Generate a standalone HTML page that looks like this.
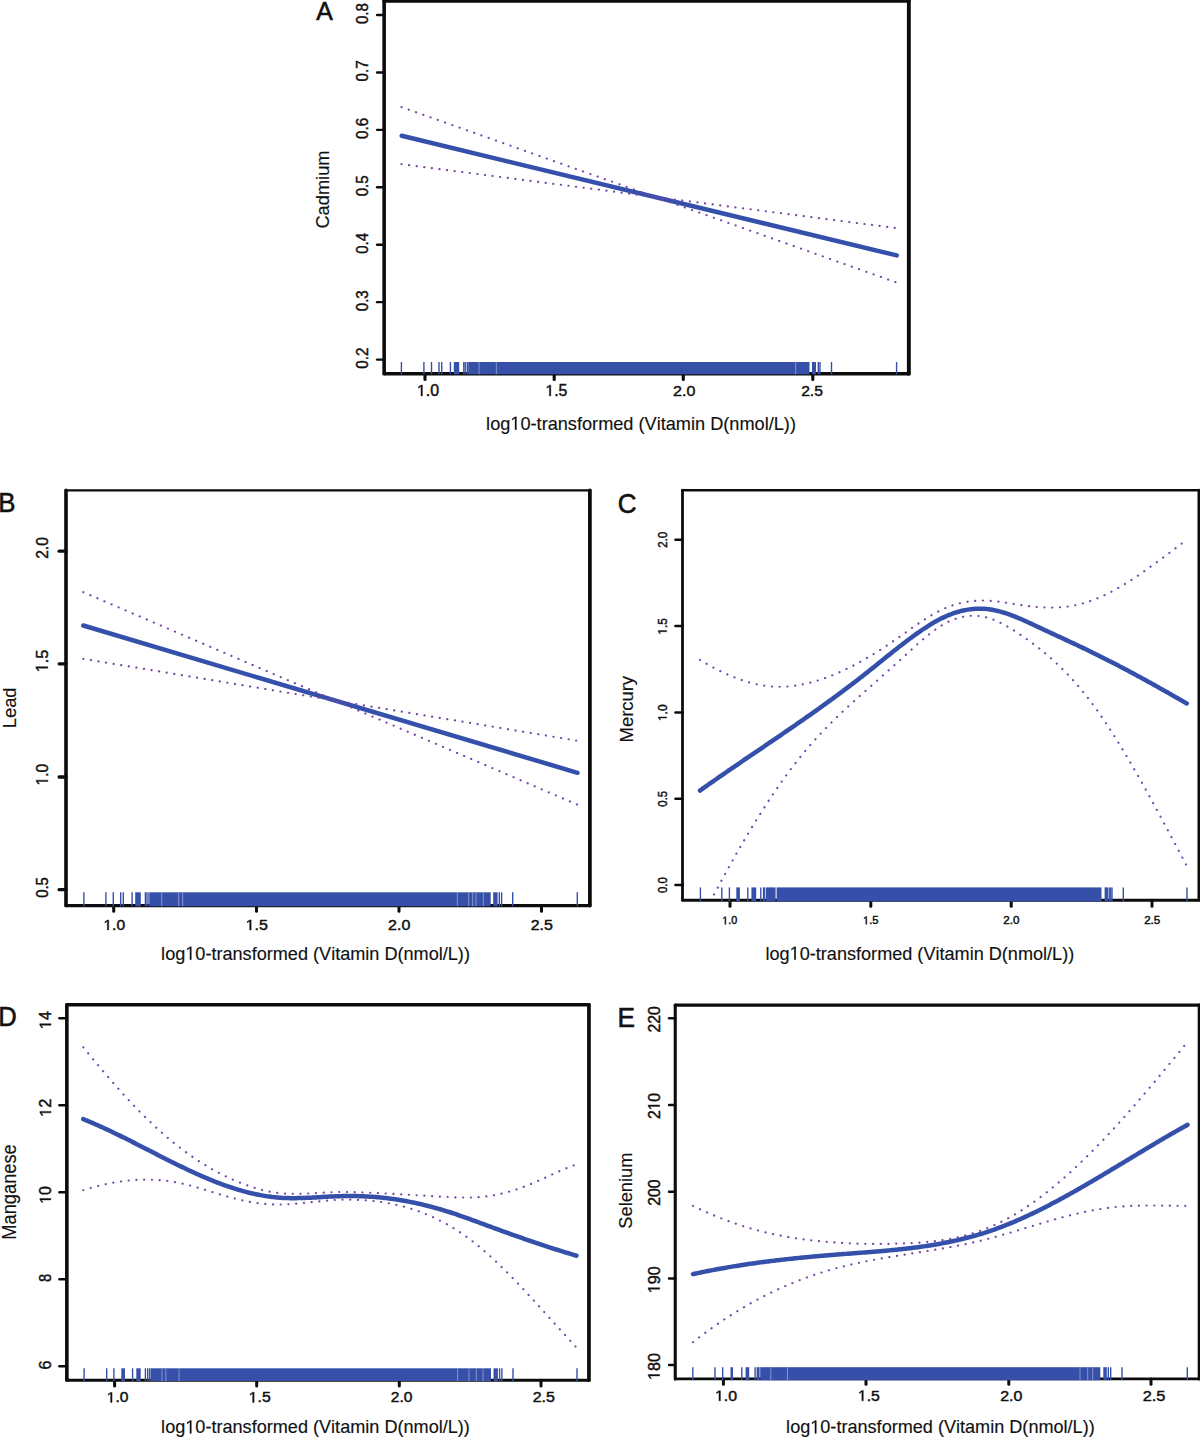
<!DOCTYPE html>
<html><head><meta charset="utf-8"><title>Vitamin D plots</title>
<style>html,body{margin:0;padding:0;background:#fff;}svg{display:block;}text{font-family:"Liberation Sans",sans-serif;}</style>
</head><body>
<svg width="1200" height="1437" viewBox="0 0 1200 1437" font-family="Liberation Sans">
<rect width="1200" height="1437" fill="#fff"/>
<clipPath id="clip0"><rect x="384.15" y="1.00" width="524.70" height="372.70"/></clipPath>
<line x1="384.15" y1="1.00" x2="384.15" y2="373.70" stroke="#0c0c0c" stroke-width="3.6" stroke-linecap="round"/>
<line x1="908.85" y1="1.00" x2="908.85" y2="373.70" stroke="#0c0c0c" stroke-width="3.9" stroke-linecap="round"/>
<line x1="384.15" y1="1.00" x2="908.85" y2="1.00" stroke="#0c0c0c" stroke-width="3.5" stroke-linecap="round"/>
<line x1="384.15" y1="373.70" x2="908.85" y2="373.70" stroke="#0c0c0c" stroke-width="3.4" stroke-linecap="round"/>
<line x1="377.10" y1="15.00" x2="384.15" y2="15.00" stroke="#0c0c0c" stroke-width="2.4" stroke-linecap="round"/>
<line x1="377.10" y1="72.43" x2="384.15" y2="72.43" stroke="#0c0c0c" stroke-width="2.4" stroke-linecap="round"/>
<line x1="377.10" y1="129.86" x2="384.15" y2="129.86" stroke="#0c0c0c" stroke-width="2.4" stroke-linecap="round"/>
<line x1="377.10" y1="187.29" x2="384.15" y2="187.29" stroke="#0c0c0c" stroke-width="2.4" stroke-linecap="round"/>
<line x1="377.10" y1="244.72" x2="384.15" y2="244.72" stroke="#0c0c0c" stroke-width="2.4" stroke-linecap="round"/>
<line x1="377.10" y1="302.15" x2="384.15" y2="302.15" stroke="#0c0c0c" stroke-width="2.4" stroke-linecap="round"/>
<line x1="377.10" y1="359.58" x2="384.15" y2="359.58" stroke="#0c0c0c" stroke-width="2.4" stroke-linecap="round"/>
<line x1="425.00" y1="373.70" x2="425.00" y2="379.45" stroke="#0c0c0c" stroke-width="3.1" stroke-linecap="round"/>
<line x1="554.20" y1="373.70" x2="554.20" y2="379.45" stroke="#0c0c0c" stroke-width="3.1" stroke-linecap="round"/>
<line x1="683.30" y1="373.70" x2="683.30" y2="379.45" stroke="#0c0c0c" stroke-width="3.1" stroke-linecap="round"/>
<line x1="812.80" y1="373.70" x2="812.80" y2="379.45" stroke="#0c0c0c" stroke-width="3.1" stroke-linecap="round"/>
<text transform="translate(367.71,24.08) rotate(-90) scale(0.9188,1)" font-size="16.41" fill="#111" stroke="#111" stroke-width="0.45">0.8</text>
<text transform="translate(367.71,81.51) rotate(-90) scale(0.9259,1)" font-size="16.41" fill="#111" stroke="#111" stroke-width="0.45">0.7</text>
<text transform="translate(367.71,138.94) rotate(-90) scale(0.9188,1)" font-size="16.41" fill="#111" stroke="#111" stroke-width="0.45">0.6</text>
<text transform="translate(367.71,196.37) rotate(-90) scale(0.9188,1)" font-size="16.41" fill="#111" stroke="#111" stroke-width="0.45">0.5</text>
<text transform="translate(367.71,253.79) rotate(-90) scale(0.9119,1)" font-size="16.41" fill="#111" stroke="#111" stroke-width="0.45">0.4</text>
<text transform="translate(367.71,311.23) rotate(-90) scale(0.9188,1)" font-size="16.41" fill="#111" stroke="#111" stroke-width="0.45">0.3</text>
<text transform="translate(367.71,368.66) rotate(-90) scale(0.9259,1)" font-size="16.41" fill="#111" stroke="#111" stroke-width="0.45">0.2</text>
<text transform="translate(416.99,395.92) scale(1.0132,1)" font-size="15.70" fill="#111" stroke="#111" stroke-width="0.45" style="font-kerning:none"> .0</text>
<path transform="translate(416.99,395.92) scale(1.0132,1) translate(0.000,0) scale(0.00767,-0.00767)" d="M515,0 L515,1237 L197,1010 L197,1180 L530,1409 L696,1409 L696,0 Z" fill="#111" stroke="#111" stroke-width="58.7"/>
<text transform="translate(545.40,395.92) scale(1.0121,1)" font-size="15.64" fill="#111" stroke="#111" stroke-width="0.45" style="font-kerning:none"> .5</text>
<path transform="translate(545.40,395.92) scale(1.0121,1) translate(0.000,0) scale(0.00764,-0.00764)" d="M515,0 L515,1237 L197,1010 L197,1180 L530,1409 L696,1409 L696,0 Z" fill="#111" stroke="#111" stroke-width="58.9"/>
<text transform="translate(673.12,395.92) scale(1.0399,1)" font-size="15.42" fill="#111" stroke="#111" stroke-width="0.45">2.0</text>
<text transform="translate(801.14,395.92) scale(1.0150,1)" font-size="15.42" fill="#111" stroke="#111" stroke-width="0.45">2.5</text>
<text transform="translate(486.10,429.70) scale(0.9595,1)" font-size="18.94" fill="#111" stroke="#111" stroke-width="0.15" style="font-kerning:none">log 0-transformed (Vitamin D(nmol/L))</text>
<path transform="translate(486.10,429.70) scale(0.9595,1) translate(25.270,0) scale(0.00925,-0.00925)" d="M515,0 L515,1237 L197,1010 L197,1180 L530,1409 L696,1409 L696,0 Z" fill="#111" stroke="#111" stroke-width="16.2"/>
<text transform="translate(328.95,228.54) rotate(-90) scale(1.0260,1)" font-size="17.77" fill="#111" stroke="#111" stroke-width="0.15">Cadmium</text>
<text transform="translate(316.30,20.40) scale(0.9369,1)" font-size="26.52" fill="#111" stroke="#111" stroke-width="0.6">A</text>
<g clip-path="url(#clip0)">
<path d="M401.70,135.80 L896.70,255.40" fill="none" stroke="#3550aa" stroke-width="4.5" stroke-linecap="round" stroke-linejoin="round"/>
<path d="M401.50,107.10 L895.40,282.10" pathLength="68" fill="none" stroke="#7548a8" stroke-width="2.15" stroke-dasharray="0.02 0.98" stroke-dashoffset="0.01" stroke-linecap="round"/>
<path d="M401.50,164.20 L894.80,227.90" pathLength="65" fill="none" stroke="#7548a8" stroke-width="2.15" stroke-dasharray="0.02 0.98" stroke-dashoffset="0.01" stroke-linecap="round"/>
</g>
<line x1="401.40" y1="362.00" x2="401.40" y2="374.30" stroke="#3650a9" stroke-width="1.4"/>
<line x1="423.90" y1="362.00" x2="423.90" y2="374.30" stroke="#3650a9" stroke-width="1.4"/>
<line x1="431.50" y1="362.00" x2="431.50" y2="374.30" stroke="#3650a9" stroke-width="1.4"/>
<line x1="439.00" y1="362.00" x2="439.00" y2="374.30" stroke="#3650a9" stroke-width="1.4"/>
<line x1="441.70" y1="362.00" x2="441.70" y2="374.30" stroke="#3650a9" stroke-width="1.4"/>
<line x1="450.40" y1="362.00" x2="450.40" y2="374.30" stroke="#3650a9" stroke-width="1.4"/>
<rect x="453.80" y="362.00" width="5.40" height="12.30" fill="#3650a9"/>
<line x1="463.80" y1="362.00" x2="463.80" y2="374.30" stroke="#3650a9" stroke-width="1.4"/>
<line x1="465.20" y1="362.00" x2="465.20" y2="374.30" stroke="#3650a9" stroke-width="1.4"/>
<line x1="467.30" y1="362.00" x2="467.30" y2="374.30" stroke="#3650a9" stroke-width="1.4"/>
<rect x="468.20" y="362.00" width="341.30" height="12.30" fill="#3650a9"/>
<rect x="812.00" y="362.00" width="4.00" height="12.30" fill="#3650a9"/>
<line x1="818.30" y1="362.00" x2="818.30" y2="374.30" stroke="#3650a9" stroke-width="1.4"/>
<line x1="820.00" y1="362.00" x2="820.00" y2="374.30" stroke="#3650a9" stroke-width="1.4"/>
<line x1="831.50" y1="362.00" x2="831.50" y2="374.30" stroke="#3650a9" stroke-width="1.4"/>
<line x1="896.60" y1="362.00" x2="896.60" y2="374.30" stroke="#3650a9" stroke-width="1.4"/>
<line x1="479.00" y1="362.00" x2="479.00" y2="374.30" stroke="#9aa6d8" stroke-width="0.8"/>
<line x1="496.30" y1="362.00" x2="496.30" y2="374.30" stroke="#9aa6d8" stroke-width="0.8"/>
<line x1="795.70" y1="362.00" x2="795.70" y2="374.30" stroke="#9aa6d8" stroke-width="0.8"/>
<clipPath id="clip1"><rect x="66.00" y="490.30" width="523.90" height="415.30"/></clipPath>
<line x1="66.00" y1="490.30" x2="66.00" y2="905.60" stroke="#0c0c0c" stroke-width="3.6" stroke-linecap="round"/>
<line x1="589.90" y1="490.30" x2="589.90" y2="905.60" stroke="#0c0c0c" stroke-width="3.75" stroke-linecap="round"/>
<line x1="66.00" y1="490.30" x2="589.90" y2="490.30" stroke="#0c0c0c" stroke-width="2.3" stroke-linecap="round"/>
<line x1="66.00" y1="905.60" x2="589.90" y2="905.60" stroke="#0c0c0c" stroke-width="3.25" stroke-linecap="round"/>
<line x1="59.15" y1="551.20" x2="66.00" y2="551.20" stroke="#0c0c0c" stroke-width="3.3" stroke-linecap="round"/>
<line x1="59.15" y1="663.80" x2="66.00" y2="663.80" stroke="#0c0c0c" stroke-width="3.3" stroke-linecap="round"/>
<line x1="59.15" y1="777.00" x2="66.00" y2="777.00" stroke="#0c0c0c" stroke-width="3.3" stroke-linecap="round"/>
<line x1="59.15" y1="889.70" x2="66.00" y2="889.70" stroke="#0c0c0c" stroke-width="3.3" stroke-linecap="round"/>
<line x1="113.70" y1="905.60" x2="113.70" y2="911.30" stroke="#0c0c0c" stroke-width="3.0" stroke-linecap="round"/>
<line x1="256.50" y1="905.60" x2="256.50" y2="911.30" stroke="#0c0c0c" stroke-width="3.0" stroke-linecap="round"/>
<line x1="399.00" y1="905.60" x2="399.00" y2="911.30" stroke="#0c0c0c" stroke-width="3.0" stroke-linecap="round"/>
<line x1="541.50" y1="905.60" x2="541.50" y2="911.30" stroke="#0c0c0c" stroke-width="3.0" stroke-linecap="round"/>
<text transform="translate(47.91,558.86) rotate(-90) scale(0.9223,1)" font-size="16.97" fill="#111" stroke="#111" stroke-width="0.45">2.0</text>
<text transform="translate(47.80,672.24) rotate(-90) scale(0.9475,1)" font-size="17.21" fill="#111" stroke="#111" stroke-width="0.45" style="font-kerning:none"> .5</text>
<path transform="translate(47.80,672.24) rotate(-90) scale(0.9475,1) translate(0.000,0) scale(0.00841,-0.00841)" d="M515,0 L515,1237 L197,1010 L197,1180 L530,1409 L696,1409 L696,0 Z" fill="#111" stroke="#111" stroke-width="53.5"/>
<text transform="translate(47.91,785.47) rotate(-90) scale(0.9187,1)" font-size="16.97" fill="#111" stroke="#111" stroke-width="0.45" style="font-kerning:none"> .0</text>
<path transform="translate(47.91,785.47) rotate(-90) scale(0.9187,1) translate(0.000,0) scale(0.00829,-0.00829)" d="M515,0 L515,1237 L197,1010 L197,1180 L530,1409 L696,1409 L696,0 Z" fill="#111" stroke="#111" stroke-width="54.3"/>
<text transform="translate(47.91,897.87) rotate(-90) scale(0.8793,1)" font-size="16.97" fill="#111" stroke="#111" stroke-width="0.45">0.5</text>
<text transform="translate(103.43,929.93) scale(1.0907,1)" font-size="14.30" fill="#111" stroke="#111" stroke-width="0.45" style="font-kerning:none"> .0</text>
<path transform="translate(103.43,929.93) scale(1.0907,1) translate(0.000,0) scale(0.00698,-0.00698)" d="M515,0 L515,1237 L197,1010 L197,1180 L530,1409 L696,1409 L696,0 Z" fill="#111" stroke="#111" stroke-width="64.5"/>
<text transform="translate(245.69,929.93) scale(1.1028,1)" font-size="14.50" fill="#111" stroke="#111" stroke-width="0.45" style="font-kerning:none"> .5</text>
<path transform="translate(245.69,929.93) scale(1.1028,1) translate(0.000,0) scale(0.00708,-0.00708)" d="M515,0 L515,1237 L197,1010 L197,1180 L530,1409 L696,1409 L696,0 Z" fill="#111" stroke="#111" stroke-width="63.6"/>
<text transform="translate(388.12,929.93) scale(1.1219,1)" font-size="14.30" fill="#111" stroke="#111" stroke-width="0.45">2.0</text>
<text transform="translate(530.73,929.93) scale(1.1165,1)" font-size="14.30" fill="#111" stroke="#111" stroke-width="0.45">2.5</text>
<text transform="translate(161.11,959.70) scale(0.9566,1)" font-size="18.94" fill="#111" stroke="#111" stroke-width="0.15" style="font-kerning:none">log 0-transformed (Vitamin D(nmol/L))</text>
<path transform="translate(161.11,959.70) scale(0.9566,1) translate(25.270,0) scale(0.00925,-0.00925)" d="M515,0 L515,1237 L197,1010 L197,1180 L530,1409 L696,1409 L696,0 Z" fill="#111" stroke="#111" stroke-width="16.2"/>
<text transform="translate(15.64,728.30) rotate(-90) scale(0.9969,1)" font-size="18.45" fill="#111" stroke="#111" stroke-width="0.15">Lead</text>
<text transform="translate(-1.77,512.40) scale(0.9437,1)" font-size="27.39" fill="#111" stroke="#111" stroke-width="0.6">B</text>
<g clip-path="url(#clip1)">
<path d="M83.30,625.50 L577.50,772.80" fill="none" stroke="#3550aa" stroke-width="4.5" stroke-linecap="round" stroke-linejoin="round"/>
<path d="M83.30,592.20 L577.00,804.50" pathLength="70" fill="none" stroke="#7548a8" stroke-width="2.15" stroke-dasharray="0.02 0.98" stroke-dashoffset="0.01" stroke-linecap="round"/>
<path d="M83.30,658.80 L576.20,740.50" pathLength="65" fill="none" stroke="#7548a8" stroke-width="2.15" stroke-dasharray="0.02 0.98" stroke-dashoffset="0.01" stroke-linecap="round"/>
</g>
<line x1="83.90" y1="892.30" x2="83.90" y2="906.30" stroke="#3650a9" stroke-width="1.4"/>
<line x1="105.90" y1="892.30" x2="105.90" y2="906.30" stroke="#3650a9" stroke-width="1.4"/>
<line x1="113.30" y1="892.30" x2="113.30" y2="906.30" stroke="#3650a9" stroke-width="1.4"/>
<line x1="120.70" y1="892.30" x2="120.70" y2="906.30" stroke="#3650a9" stroke-width="1.4"/>
<line x1="123.30" y1="892.30" x2="123.30" y2="906.30" stroke="#3650a9" stroke-width="1.4"/>
<line x1="132.10" y1="892.30" x2="132.10" y2="906.30" stroke="#3650a9" stroke-width="1.4"/>
<rect x="135.20" y="892.30" width="5.60" height="14.00" fill="#3650a9"/>
<line x1="145.40" y1="892.30" x2="145.40" y2="906.30" stroke="#3650a9" stroke-width="1.4"/>
<line x1="147.00" y1="892.30" x2="147.00" y2="906.30" stroke="#3650a9" stroke-width="1.4"/>
<line x1="149.00" y1="892.30" x2="149.00" y2="906.30" stroke="#3650a9" stroke-width="1.4"/>
<rect x="149.80" y="892.30" width="340.90" height="14.00" fill="#3650a9"/>
<rect x="493.20" y="892.30" width="4.40" height="14.00" fill="#3650a9"/>
<line x1="499.30" y1="892.30" x2="499.30" y2="906.30" stroke="#3650a9" stroke-width="1.4"/>
<line x1="501.60" y1="892.30" x2="501.60" y2="906.30" stroke="#3650a9" stroke-width="1.4"/>
<line x1="512.70" y1="892.30" x2="512.70" y2="906.30" stroke="#3650a9" stroke-width="1.4"/>
<line x1="577.30" y1="892.30" x2="577.30" y2="906.30" stroke="#3650a9" stroke-width="1.4"/>
<line x1="161.70" y1="892.30" x2="161.70" y2="906.30" stroke="#9aa6d8" stroke-width="0.8"/>
<line x1="178.70" y1="892.30" x2="178.70" y2="906.30" stroke="#9aa6d8" stroke-width="0.8"/>
<line x1="182.70" y1="892.30" x2="182.70" y2="906.30" stroke="#9aa6d8" stroke-width="0.8"/>
<line x1="457.30" y1="892.30" x2="457.30" y2="906.30" stroke="#9aa6d8" stroke-width="0.8"/>
<line x1="468.70" y1="892.30" x2="468.70" y2="906.30" stroke="#9aa6d8" stroke-width="0.8"/>
<line x1="472.70" y1="892.30" x2="472.70" y2="906.30" stroke="#9aa6d8" stroke-width="0.8"/>
<line x1="476.00" y1="892.30" x2="476.00" y2="906.30" stroke="#9aa6d8" stroke-width="0.8"/>
<line x1="483.30" y1="892.30" x2="483.30" y2="906.30" stroke="#9aa6d8" stroke-width="0.8"/>
<clipPath id="clip2"><rect x="682.50" y="490.20" width="516.40" height="410.05"/></clipPath>
<line x1="682.50" y1="490.20" x2="682.50" y2="900.25" stroke="#0c0c0c" stroke-width="2.8" stroke-linecap="round"/>
<line x1="1198.90" y1="490.20" x2="1198.90" y2="900.25" stroke="#0c0c0c" stroke-width="2.8" stroke-linecap="round"/>
<line x1="682.50" y1="490.20" x2="1198.90" y2="490.20" stroke="#0c0c0c" stroke-width="2.5" stroke-linecap="round"/>
<line x1="682.50" y1="900.25" x2="1198.90" y2="900.25" stroke="#0c0c0c" stroke-width="2.8" stroke-linecap="round"/>
<line x1="675.45" y1="539.70" x2="682.50" y2="539.70" stroke="#0c0c0c" stroke-width="2.5" stroke-linecap="round"/>
<line x1="675.45" y1="626.05" x2="682.50" y2="626.05" stroke="#0c0c0c" stroke-width="2.5" stroke-linecap="round"/>
<line x1="675.45" y1="712.40" x2="682.50" y2="712.40" stroke="#0c0c0c" stroke-width="2.5" stroke-linecap="round"/>
<line x1="675.45" y1="798.75" x2="682.50" y2="798.75" stroke="#0c0c0c" stroke-width="2.5" stroke-linecap="round"/>
<line x1="675.45" y1="885.10" x2="682.50" y2="885.10" stroke="#0c0c0c" stroke-width="2.5" stroke-linecap="round"/>
<line x1="730.00" y1="900.25" x2="730.00" y2="906.20" stroke="#0c0c0c" stroke-width="3.0" stroke-linecap="round"/>
<line x1="870.80" y1="900.25" x2="870.80" y2="906.20" stroke="#0c0c0c" stroke-width="3.0" stroke-linecap="round"/>
<line x1="1011.20" y1="900.25" x2="1011.20" y2="906.20" stroke="#0c0c0c" stroke-width="3.0" stroke-linecap="round"/>
<line x1="1152.00" y1="900.25" x2="1152.00" y2="906.20" stroke="#0c0c0c" stroke-width="3.0" stroke-linecap="round"/>
<text transform="translate(666.65,547.75) rotate(-90) scale(0.9550,1)" font-size="12.04" fill="#111" stroke="#111" stroke-width="0.45">2.0</text>
<text transform="translate(666.65,634.67) rotate(-90) scale(0.9762,1)" font-size="12.21" fill="#111" stroke="#111" stroke-width="0.45" style="font-kerning:none"> .5</text>
<path transform="translate(666.65,634.67) rotate(-90) scale(0.9762,1) translate(0.000,0) scale(0.00596,-0.00596)" d="M515,0 L515,1237 L197,1010 L197,1180 L530,1409 L696,1409 L696,0 Z" fill="#111" stroke="#111" stroke-width="75.5"/>
<text transform="translate(666.65,721.02) rotate(-90) scale(0.9902,1)" font-size="12.04" fill="#111" stroke="#111" stroke-width="0.45" style="font-kerning:none"> .0</text>
<path transform="translate(666.65,721.02) rotate(-90) scale(0.9902,1) translate(0.000,0) scale(0.00588,-0.00588)" d="M515,0 L515,1237 L197,1010 L197,1180 L530,1409 L696,1409 L696,0 Z" fill="#111" stroke="#111" stroke-width="76.5"/>
<text transform="translate(666.65,806.68) rotate(-90) scale(0.9477,1)" font-size="12.04" fill="#111" stroke="#111" stroke-width="0.45">0.5</text>
<text transform="translate(666.65,893.03) rotate(-90) scale(0.9477,1)" font-size="12.04" fill="#111" stroke="#111" stroke-width="0.45">0.0</text>
<text transform="translate(722.19,924.36) scale(0.9652,1)" font-size="11.20" fill="#111" stroke="#111" stroke-width="0.45" style="font-kerning:none"> .0</text>
<path transform="translate(722.19,924.36) scale(0.9652,1) translate(0.000,0) scale(0.00547,-0.00547)" d="M515,0 L515,1237 L197,1010 L197,1180 L530,1409 L696,1409 L696,0 Z" fill="#111" stroke="#111" stroke-width="82.3"/>
<text transform="translate(862.95,924.36) scale(0.9867,1)" font-size="11.36" fill="#111" stroke="#111" stroke-width="0.45" style="font-kerning:none"> .5</text>
<path transform="translate(862.95,924.36) scale(0.9867,1) translate(0.000,0) scale(0.00555,-0.00555)" d="M515,0 L515,1237 L197,1010 L197,1180 L530,1409 L696,1409 L696,0 Z" fill="#111" stroke="#111" stroke-width="81.1"/>
<text transform="translate(1003.35,924.36) scale(1.0339,1)" font-size="11.20" fill="#111" stroke="#111" stroke-width="0.45">2.0</text>
<text transform="translate(1144.15,924.36) scale(1.0339,1)" font-size="11.20" fill="#111" stroke="#111" stroke-width="0.45">2.5</text>
<text transform="translate(765.51,959.70) scale(0.9558,1)" font-size="18.94" fill="#111" stroke="#111" stroke-width="0.15" style="font-kerning:none">log 0-transformed (Vitamin D(nmol/L))</text>
<path transform="translate(765.51,959.70) scale(0.9558,1) translate(25.270,0) scale(0.00925,-0.00925)" d="M515,0 L515,1237 L197,1010 L197,1180 L530,1409 L696,1409 L696,0 Z" fill="#111" stroke="#111" stroke-width="16.2"/>
<text transform="translate(632.61,742.39) rotate(-90) scale(1.0113,1)" font-size="18.17" fill="#111" stroke="#111" stroke-width="0.15">Mercury</text>
<text transform="translate(617.75,512.53) scale(0.9478,1)" font-size="27.46" fill="#111" stroke="#111" stroke-width="0.6">C</text>
<g clip-path="url(#clip2)">
<path d="M700.00,790.54 L701.50,789.48 L703.00,788.42 L704.49,787.36 L705.99,786.30 L707.49,785.25 L708.99,784.20 L710.48,783.15 L711.98,782.10 L713.48,781.06 L714.98,780.01 L716.47,778.97 L717.97,777.93 L719.47,776.89 L720.97,775.86 L722.46,774.82 L723.96,773.79 L725.46,772.76 L726.96,771.73 L728.45,770.70 L729.95,769.67 L731.45,768.64 L732.95,767.62 L734.44,766.59 L735.94,765.57 L737.44,764.55 L738.94,763.53 L740.43,762.51 L741.93,761.49 L743.43,760.47 L744.93,759.45 L746.42,758.43 L747.92,757.41 L749.42,756.40 L750.92,755.38 L752.41,754.37 L753.91,753.35 L755.41,752.33 L756.91,751.32 L758.40,750.30 L759.90,749.29 L761.40,748.27 L762.90,747.26 L764.39,746.24 L765.89,745.22 L767.39,744.21 L768.89,743.19 L770.38,742.17 L771.88,741.15 L773.38,740.14 L774.88,739.12 L776.37,738.10 L777.87,737.08 L779.37,736.05 L780.87,735.03 L782.36,734.01 L783.86,732.98 L785.36,731.96 L786.86,730.93 L788.35,729.90 L789.85,728.87 L791.35,727.84 L792.85,726.81 L794.34,725.78 L795.84,724.74 L797.34,723.71 L798.84,722.67 L800.34,721.63 L801.83,720.59 L803.33,719.54 L804.83,718.50 L806.33,717.45 L807.82,716.40 L809.32,715.35 L810.82,714.29 L812.32,713.24 L813.81,712.18 L815.31,711.12 L816.81,710.05 L818.31,708.99 L819.80,707.92 L821.30,706.85 L822.80,705.77 L824.30,704.69 L825.79,703.61 L827.29,702.53 L828.79,701.45 L830.29,700.36 L831.78,699.26 L833.28,698.17 L834.78,697.07 L836.28,695.97 L837.77,694.86 L839.27,693.76 L840.77,692.64 L842.27,691.53 L843.76,690.41 L845.26,689.29 L846.76,688.16 L848.26,687.03 L849.75,685.90 L851.25,684.76 L852.75,683.62 L854.25,682.47 L855.74,681.32 L857.24,680.16 L858.74,679.00 L860.24,677.84 L861.73,676.67 L863.23,675.50 L864.73,674.32 L866.23,673.14 L867.72,671.96 L869.22,670.77 L870.72,669.57 L872.22,668.38 L873.71,667.18 L875.21,665.97 L876.71,664.77 L878.21,663.56 L879.70,662.36 L881.20,661.15 L882.70,659.94 L884.20,658.74 L885.69,657.53 L887.19,656.33 L888.69,655.13 L890.19,653.93 L891.68,652.73 L893.18,651.54 L894.68,650.35 L896.18,649.17 L897.68,647.99 L899.17,646.82 L900.67,645.66 L902.17,644.50 L903.67,643.35 L905.16,642.20 L906.66,641.07 L908.16,639.94 L909.66,638.82 L911.15,637.71 L912.65,636.61 L914.15,635.53 L915.65,634.45 L917.14,633.39 L918.64,632.34 L920.14,631.30 L921.64,630.27 L923.13,629.26 L924.63,628.26 L926.13,627.28 L927.63,626.32 L929.12,625.37 L930.62,624.45 L932.12,623.54 L933.62,622.66 L935.11,621.80 L936.61,620.96 L938.11,620.14 L939.61,619.35 L941.10,618.59 L942.60,617.86 L944.10,617.15 L945.60,616.46 L947.09,615.81 L948.59,615.18 L950.09,614.58 L951.59,614.01 L953.08,613.47 L954.58,612.95 L956.08,612.46 L957.58,612.00 L959.07,611.57 L960.57,611.17 L962.07,610.80 L963.57,610.46 L965.06,610.15 L966.56,609.86 L968.06,609.61 L969.56,609.39 L971.05,609.19 L972.55,609.03 L974.05,608.90 L975.55,608.80 L977.04,608.73 L978.54,608.69 L980.04,608.68 L981.54,608.71 L983.03,608.77 L984.53,608.86 L986.03,608.98 L987.53,609.13 L989.02,609.32 L990.52,609.53 L992.02,609.78 L993.52,610.05 L995.02,610.36 L996.51,610.69 L998.01,611.05 L999.51,611.43 L1001.01,611.84 L1002.50,612.27 L1004.00,612.72 L1005.50,613.20 L1007.00,613.69 L1008.49,614.20 L1009.99,614.74 L1011.49,615.29 L1012.99,615.86 L1014.48,616.44 L1015.98,617.04 L1017.48,617.65 L1018.98,618.27 L1020.47,618.91 L1021.97,619.56 L1023.47,620.21 L1024.97,620.88 L1026.46,621.55 L1027.96,622.23 L1029.46,622.92 L1030.96,623.61 L1032.45,624.31 L1033.95,625.01 L1035.45,625.71 L1036.95,626.42 L1038.44,627.12 L1039.94,627.83 L1041.44,628.53 L1042.94,629.23 L1044.43,629.93 L1045.93,630.63 L1047.43,631.32 L1048.93,632.02 L1050.42,632.71 L1051.92,633.41 L1053.42,634.10 L1054.92,634.80 L1056.41,635.49 L1057.91,636.19 L1059.41,636.88 L1060.91,637.57 L1062.40,638.27 L1063.90,638.96 L1065.40,639.66 L1066.90,640.36 L1068.39,641.05 L1069.89,641.75 L1071.39,642.45 L1072.89,643.15 L1074.38,643.86 L1075.88,644.56 L1077.38,645.27 L1078.88,645.98 L1080.37,646.69 L1081.87,647.40 L1083.37,648.11 L1084.87,648.83 L1086.36,649.55 L1087.86,650.27 L1089.36,651.00 L1090.86,651.73 L1092.36,652.46 L1093.85,653.19 L1095.35,653.93 L1096.85,654.67 L1098.35,655.41 L1099.84,656.16 L1101.34,656.91 L1102.84,657.66 L1104.34,658.42 L1105.83,659.17 L1107.33,659.93 L1108.83,660.70 L1110.33,661.46 L1111.82,662.23 L1113.32,663.00 L1114.82,663.78 L1116.32,664.56 L1117.81,665.33 L1119.31,666.12 L1120.81,666.90 L1122.31,667.69 L1123.80,668.48 L1125.30,669.27 L1126.80,670.06 L1128.30,670.86 L1129.79,671.66 L1131.29,672.46 L1132.79,673.26 L1134.29,674.07 L1135.78,674.88 L1137.28,675.69 L1138.78,676.50 L1140.28,677.31 L1141.77,678.13 L1143.27,678.95 L1144.77,679.77 L1146.27,680.59 L1147.76,681.42 L1149.26,682.25 L1150.76,683.07 L1152.26,683.91 L1153.75,684.74 L1155.25,685.57 L1156.75,686.41 L1158.25,687.25 L1159.74,688.09 L1161.24,688.93 L1162.74,689.77 L1164.24,690.62 L1165.73,691.46 L1167.23,692.31 L1168.73,693.16 L1170.23,694.01 L1171.72,694.87 L1173.22,695.72 L1174.72,696.58 L1176.22,697.43 L1177.71,698.29 L1179.21,699.15 L1180.71,700.01 L1182.21,700.88 L1183.70,701.74 L1185.20,702.61 L1186.70,703.47" fill="none" stroke="#3550aa" stroke-width="4.5" stroke-linecap="round" stroke-linejoin="round"/>
<path d="M700.00,659.84 L701.50,660.75 L702.99,661.64 L704.49,662.52 L705.98,663.39 L707.48,664.25 L708.98,665.09 L710.47,665.93 L711.97,666.75 L713.46,667.55 L714.96,668.35 L716.46,669.13 L717.95,669.90 L719.45,670.65 L720.94,671.39 L722.44,672.12 L723.94,672.83 L725.43,673.52 L726.93,674.21 L728.42,674.87 L729.92,675.52 L731.42,676.16 L732.91,676.78 L734.41,677.38 L735.90,677.97 L737.40,678.54 L738.90,679.09 L740.39,679.63 L741.89,680.14 L743.38,680.65 L744.88,681.13 L746.37,681.59 L747.87,682.04 L749.37,682.47 L750.86,682.88 L752.36,683.27 L753.85,683.64 L755.35,683.99 L756.85,684.33 L758.34,684.64 L759.84,684.93 L761.33,685.20 L762.83,685.46 L764.33,685.69 L765.82,685.90 L767.32,686.08 L768.81,686.25 L770.31,686.40 L771.81,686.52 L773.30,686.62 L774.80,686.70 L776.29,686.75 L777.79,686.79 L779.29,686.80 L780.78,686.79 L782.28,686.77 L783.77,686.72 L785.27,686.65 L786.77,686.56 L788.26,686.45 L789.76,686.32 L791.25,686.17 L792.75,686.00 L794.25,685.81 L795.74,685.60 L797.24,685.38 L798.73,685.13 L800.23,684.87 L801.73,684.59 L803.22,684.29 L804.72,683.98 L806.21,683.65 L807.71,683.30 L809.21,682.93 L810.70,682.54 L812.20,682.14 L813.69,681.73 L815.19,681.30 L816.69,680.85 L818.18,680.38 L819.68,679.91 L821.17,679.41 L822.67,678.90 L824.16,678.38 L825.66,677.84 L827.16,677.29 L828.65,676.72 L830.15,676.14 L831.64,675.55 L833.14,674.95 L834.64,674.33 L836.13,673.69 L837.63,673.05 L839.12,672.39 L840.62,671.72 L842.12,671.04 L843.61,670.34 L845.11,669.63 L846.60,668.91 L848.10,668.18 L849.60,667.44 L851.09,666.68 L852.59,665.92 L854.08,665.14 L855.58,664.35 L857.08,663.55 L858.57,662.74 L860.07,661.92 L861.56,661.08 L863.06,660.24 L864.56,659.39 L866.05,658.52 L867.55,657.65 L869.04,656.76 L870.54,655.87 L872.04,654.96 L873.53,654.05 L875.03,653.13 L876.52,652.19 L878.02,651.25 L879.52,650.30 L881.01,649.34 L882.51,648.37 L884.00,647.39 L885.50,646.40 L887.00,645.41 L888.49,644.40 L889.99,643.39 L891.48,642.37 L892.98,641.34 L894.48,640.31 L895.97,639.26 L897.47,638.21 L898.96,637.16 L900.46,636.10 L901.95,635.04 L903.45,633.98 L904.95,632.92 L906.44,631.86 L907.94,630.80 L909.43,629.74 L910.93,628.69 L912.43,627.64 L913.92,626.60 L915.42,625.57 L916.91,624.54 L918.41,623.53 L919.91,622.52 L921.40,621.53 L922.90,620.55 L924.39,619.58 L925.89,618.63 L927.39,617.69 L928.88,616.78 L930.38,615.88 L931.87,615.00 L933.37,614.14 L934.87,613.30 L936.36,612.48 L937.86,611.69 L939.35,610.93 L940.85,610.18 L942.35,609.47 L943.84,608.79 L945.34,608.13 L946.83,607.50 L948.33,606.91 L949.83,606.34 L951.32,605.80 L952.82,605.29 L954.31,604.81 L955.81,604.36 L957.31,603.93 L958.80,603.53 L960.30,603.16 L961.79,602.81 L963.29,602.49 L964.79,602.20 L966.28,601.93 L967.78,601.68 L969.27,601.46 L970.77,601.27 L972.27,601.10 L973.76,600.95 L975.26,600.83 L976.75,600.73 L978.25,600.65 L979.75,600.59 L981.24,600.56 L982.74,600.54 L984.23,600.55 L985.73,600.58 L987.22,600.63 L988.72,600.70 L990.22,600.79 L991.71,600.90 L993.21,601.03 L994.70,601.18 L996.20,601.34 L997.70,601.51 L999.19,601.70 L1000.69,601.90 L1002.18,602.11 L1003.68,602.33 L1005.18,602.55 L1006.67,602.78 L1008.17,603.02 L1009.66,603.26 L1011.16,603.51 L1012.66,603.75 L1014.15,604.00 L1015.65,604.24 L1017.14,604.48 L1018.64,604.72 L1020.14,604.95 L1021.63,605.17 L1023.13,605.39 L1024.62,605.60 L1026.12,605.80 L1027.62,605.99 L1029.11,606.18 L1030.61,606.35 L1032.10,606.51 L1033.60,606.67 L1035.10,606.81 L1036.59,606.94 L1038.09,607.07 L1039.58,607.18 L1041.08,607.27 L1042.58,607.36 L1044.07,607.43 L1045.57,607.49 L1047.06,607.53 L1048.56,607.56 L1050.06,607.58 L1051.55,607.58 L1053.05,607.56 L1054.54,607.53 L1056.04,607.48 L1057.54,607.42 L1059.03,607.34 L1060.53,607.24 L1062.02,607.12 L1063.52,606.99 L1065.01,606.84 L1066.51,606.66 L1068.01,606.47 L1069.50,606.26 L1071.00,606.03 L1072.49,605.78 L1073.99,605.51 L1075.49,605.21 L1076.98,604.90 L1078.48,604.56 L1079.97,604.20 L1081.47,603.81 L1082.97,603.41 L1084.46,602.98 L1085.96,602.52 L1087.45,602.05 L1088.95,601.55 L1090.45,601.03 L1091.94,600.49 L1093.44,599.93 L1094.93,599.35 L1096.43,598.75 L1097.93,598.13 L1099.42,597.49 L1100.92,596.83 L1102.41,596.15 L1103.91,595.45 L1105.41,594.74 L1106.90,594.01 L1108.40,593.26 L1109.89,592.49 L1111.39,591.71 L1112.89,590.91 L1114.38,590.10 L1115.88,589.27 L1117.37,588.43 L1118.87,587.57 L1120.37,586.70 L1121.86,585.82 L1123.36,584.92 L1124.85,584.01 L1126.35,583.08 L1127.85,582.15 L1129.34,581.20 L1130.84,580.24 L1132.33,579.27 L1133.83,578.29 L1135.33,577.30 L1136.82,576.30 L1138.32,575.29 L1139.81,574.27 L1141.31,573.25 L1142.80,572.21 L1144.30,571.17 L1145.80,570.12 L1147.29,569.06 L1148.79,568.00 L1150.28,566.92 L1151.78,565.85 L1153.28,564.76 L1154.77,563.68 L1156.27,562.58 L1157.76,561.49 L1159.26,560.38 L1160.76,559.28 L1162.25,558.17 L1163.75,557.06 L1165.24,555.95 L1166.74,554.83 L1168.24,553.71 L1169.73,552.59 L1171.23,551.47 L1172.72,550.35 L1174.22,549.23 L1175.72,548.11 L1177.21,546.99 L1178.71,545.87 L1180.20,544.75 L1181.70,543.63" pathLength="68" fill="none" stroke="#7548a8" stroke-width="2.15" stroke-dasharray="0.02 0.98" stroke-dashoffset="0.01" stroke-linecap="round"/>
<path d="M707.00,908.13 L708.50,905.24 L709.99,902.35 L711.49,899.48 L712.99,896.63 L714.48,893.78 L715.98,890.95 L717.48,888.14 L718.98,885.33 L720.47,882.54 L721.97,879.77 L723.47,877.01 L724.96,874.26 L726.46,871.52 L727.96,868.80 L729.45,866.10 L730.95,863.40 L732.45,860.73 L733.94,858.07 L735.44,855.42 L736.94,852.79 L738.43,850.17 L739.93,847.57 L741.43,844.98 L742.92,842.41 L744.42,839.86 L745.92,837.32 L747.42,834.80 L748.91,832.29 L750.41,829.80 L751.91,827.33 L753.40,824.87 L754.90,822.43 L756.40,820.00 L757.89,817.60 L759.39,815.21 L760.89,812.83 L762.38,810.48 L763.88,808.14 L765.38,805.82 L766.88,803.52 L768.37,801.23 L769.87,798.97 L771.37,796.72 L772.86,794.49 L774.36,792.28 L775.86,790.08 L777.35,787.91 L778.85,785.75 L780.35,783.62 L781.84,781.50 L783.34,779.40 L784.84,777.32 L786.33,775.26 L787.83,773.22 L789.33,771.20 L790.83,769.20 L792.32,767.22 L793.82,765.26 L795.32,763.32 L796.81,761.41 L798.31,759.51 L799.81,757.63 L801.30,755.77 L802.80,753.94 L804.30,752.12 L805.79,750.33 L807.29,748.56 L808.79,746.81 L810.28,745.07 L811.78,743.36 L813.28,741.67 L814.77,740.00 L816.27,738.34 L817.77,736.70 L819.27,735.08 L820.76,733.48 L822.26,731.89 L823.76,730.32 L825.25,728.77 L826.75,727.23 L828.25,725.70 L829.74,724.19 L831.24,722.69 L832.74,721.20 L834.23,719.72 L835.73,718.26 L837.23,716.81 L838.73,715.37 L840.22,713.94 L841.72,712.52 L843.22,711.11 L844.71,709.71 L846.21,708.31 L847.71,706.93 L849.20,705.55 L850.70,704.18 L852.20,702.81 L853.69,701.45 L855.19,700.10 L856.69,698.75 L858.18,697.41 L859.68,696.07 L861.18,694.73 L862.67,693.40 L864.17,692.07 L865.67,690.74 L867.17,689.41 L868.66,688.09 L870.16,686.76 L871.66,685.44 L873.15,684.11 L874.65,682.78 L876.15,681.46 L877.64,680.13 L879.14,678.80 L880.64,677.47 L882.13,676.14 L883.63,674.81 L885.13,673.47 L886.62,672.14 L888.12,670.80 L889.62,669.46 L891.12,668.12 L892.61,666.77 L894.11,665.43 L895.61,664.08 L897.10,662.73 L898.60,661.37 L900.10,660.02 L901.59,658.66 L903.09,657.29 L904.59,655.93 L906.08,654.56 L907.58,653.18 L909.08,651.81 L910.58,650.44 L912.07,649.07 L913.57,647.70 L915.07,646.34 L916.56,644.99 L918.06,643.65 L919.56,642.33 L921.05,641.02 L922.55,639.72 L924.05,638.44 L925.54,637.18 L927.04,635.95 L928.54,634.73 L930.03,633.55 L931.53,632.39 L933.03,631.25 L934.52,630.15 L936.02,629.09 L937.52,628.06 L939.02,627.06 L940.51,626.10 L942.01,625.19 L943.51,624.31 L945.00,623.48 L946.50,622.69 L948.00,621.94 L949.49,621.23 L950.99,620.57 L952.49,619.95 L953.98,619.37 L955.48,618.83 L956.98,618.33 L958.48,617.88 L959.97,617.47 L961.47,617.11 L962.97,616.78 L964.46,616.50 L965.96,616.26 L967.46,616.07 L968.95,615.92 L970.45,615.81 L971.95,615.75 L973.44,615.73 L974.94,615.76 L976.44,615.83 L977.93,615.94 L979.43,616.10 L980.93,616.30 L982.42,616.54 L983.92,616.84 L985.42,617.17 L986.92,617.55 L988.41,617.98 L989.91,618.44 L991.41,618.95 L992.90,619.49 L994.40,620.08 L995.90,620.69 L997.39,621.35 L998.89,622.03 L1000.39,622.75 L1001.88,623.50 L1003.38,624.28 L1004.88,625.08 L1006.38,625.91 L1007.87,626.77 L1009.37,627.65 L1010.87,628.55 L1012.36,629.47 L1013.86,630.40 L1015.36,631.36 L1016.85,632.33 L1018.35,633.32 L1019.85,634.32 L1021.34,635.33 L1022.84,636.35 L1024.34,637.39 L1025.83,638.43 L1027.33,639.49 L1028.83,640.57 L1030.33,641.65 L1031.82,642.76 L1033.32,643.87 L1034.82,645.00 L1036.31,646.15 L1037.81,647.31 L1039.31,648.49 L1040.80,649.68 L1042.30,650.89 L1043.80,652.12 L1045.29,653.37 L1046.79,654.63 L1048.29,655.91 L1049.78,657.21 L1051.28,658.53 L1052.78,659.87 L1054.28,661.23 L1055.77,662.61 L1057.27,664.02 L1058.77,665.44 L1060.26,666.88 L1061.76,668.35 L1063.26,669.84 L1064.75,671.35 L1066.25,672.88 L1067.75,674.44 L1069.24,676.02 L1070.74,677.63 L1072.24,679.26 L1073.73,680.92 L1075.23,682.60 L1076.73,684.31 L1078.22,686.05 L1079.72,687.81 L1081.22,689.60 L1082.72,691.41 L1084.21,693.26 L1085.71,695.13 L1087.21,697.03 L1088.70,698.96 L1090.20,700.92 L1091.70,702.91 L1093.19,704.92 L1094.69,706.97 L1096.19,709.04 L1097.68,711.13 L1099.18,713.26 L1100.68,715.40 L1102.17,717.58 L1103.67,719.78 L1105.17,722.00 L1106.67,724.24 L1108.16,726.51 L1109.66,728.80 L1111.16,731.11 L1112.65,733.45 L1114.15,735.81 L1115.65,738.18 L1117.14,740.58 L1118.64,743.00 L1120.14,745.43 L1121.63,747.89 L1123.13,750.36 L1124.63,752.85 L1126.12,755.36 L1127.62,757.89 L1129.12,760.43 L1130.62,762.99 L1132.11,765.56 L1133.61,768.15 L1135.11,770.75 L1136.60,773.37 L1138.10,776.00 L1139.60,778.64 L1141.09,781.30 L1142.59,783.96 L1144.09,786.64 L1145.58,789.33 L1147.08,792.04 L1148.58,794.75 L1150.08,797.47 L1151.57,800.20 L1153.07,802.94 L1154.57,805.69 L1156.06,808.44 L1157.56,811.20 L1159.06,813.97 L1160.55,816.75 L1162.05,819.53 L1163.55,822.32 L1165.04,825.11 L1166.54,827.91 L1168.04,830.71 L1169.53,833.51 L1171.03,836.32 L1172.53,839.13 L1174.03,841.94 L1175.52,844.76 L1177.02,847.57 L1178.52,850.39 L1180.01,853.20 L1181.51,856.02 L1183.01,858.83 L1184.50,861.64 L1186.00,864.45" pathLength="96" fill="none" stroke="#7548a8" stroke-width="2.15" stroke-dasharray="0.02 0.98" stroke-dashoffset="0.01" stroke-linecap="round"/>
</g>
<line x1="700.40" y1="887.40" x2="700.40" y2="901.50" stroke="#3650a9" stroke-width="1.4"/>
<line x1="721.80" y1="887.40" x2="721.80" y2="901.50" stroke="#3650a9" stroke-width="1.4"/>
<line x1="729.40" y1="887.40" x2="729.40" y2="901.50" stroke="#3650a9" stroke-width="1.4"/>
<rect x="736.30" y="887.40" width="3.60" height="14.10" fill="#3650a9"/>
<line x1="747.80" y1="887.40" x2="747.80" y2="901.50" stroke="#3650a9" stroke-width="1.4"/>
<rect x="751.40" y="887.40" width="4.80" height="14.10" fill="#3650a9"/>
<line x1="760.80" y1="887.40" x2="760.80" y2="901.50" stroke="#3650a9" stroke-width="1.4"/>
<line x1="763.60" y1="887.40" x2="763.60" y2="901.50" stroke="#3650a9" stroke-width="1.4"/>
<line x1="764.60" y1="887.40" x2="764.60" y2="901.50" stroke="#3650a9" stroke-width="1.4"/>
<rect x="766.00" y="887.40" width="9.60" height="14.10" fill="#3650a9"/>
<rect x="776.60" y="887.40" width="324.90" height="14.10" fill="#3650a9"/>
<rect x="1104.60" y="887.40" width="3.40" height="14.10" fill="#3650a9"/>
<line x1="1109.20" y1="887.40" x2="1109.20" y2="901.50" stroke="#3650a9" stroke-width="1.4"/>
<line x1="1110.60" y1="887.40" x2="1110.60" y2="901.50" stroke="#3650a9" stroke-width="1.4"/>
<line x1="1112.00" y1="887.40" x2="1112.00" y2="901.50" stroke="#3650a9" stroke-width="1.4"/>
<line x1="1123.30" y1="887.40" x2="1123.30" y2="901.50" stroke="#3650a9" stroke-width="1.4"/>
<line x1="1187.00" y1="887.40" x2="1187.00" y2="901.50" stroke="#3650a9" stroke-width="1.4"/>
<clipPath id="clip3"><rect x="66.85" y="1004.75" width="522.10" height="375.50"/></clipPath>
<line x1="66.85" y1="1004.75" x2="66.85" y2="1380.25" stroke="#0c0c0c" stroke-width="3.6" stroke-linecap="round"/>
<line x1="588.95" y1="1004.75" x2="588.95" y2="1380.25" stroke="#0c0c0c" stroke-width="3.7" stroke-linecap="round"/>
<line x1="66.85" y1="1004.75" x2="588.95" y2="1004.75" stroke="#0c0c0c" stroke-width="3.5" stroke-linecap="round"/>
<line x1="66.85" y1="1380.25" x2="588.95" y2="1380.25" stroke="#0c0c0c" stroke-width="2.9" stroke-linecap="round"/>
<line x1="59.45" y1="1018.30" x2="66.85" y2="1018.30" stroke="#0c0c0c" stroke-width="2.5" stroke-linecap="round"/>
<line x1="59.45" y1="1105.28" x2="66.85" y2="1105.28" stroke="#0c0c0c" stroke-width="2.5" stroke-linecap="round"/>
<line x1="59.45" y1="1192.26" x2="66.85" y2="1192.26" stroke="#0c0c0c" stroke-width="2.5" stroke-linecap="round"/>
<line x1="59.45" y1="1279.24" x2="66.85" y2="1279.24" stroke="#0c0c0c" stroke-width="2.5" stroke-linecap="round"/>
<line x1="59.45" y1="1366.22" x2="66.85" y2="1366.22" stroke="#0c0c0c" stroke-width="2.5" stroke-linecap="round"/>
<line x1="114.60" y1="1380.25" x2="114.60" y2="1386.00" stroke="#0c0c0c" stroke-width="3.0" stroke-linecap="round"/>
<line x1="256.70" y1="1380.25" x2="256.70" y2="1386.00" stroke="#0c0c0c" stroke-width="3.0" stroke-linecap="round"/>
<line x1="399.30" y1="1380.25" x2="399.30" y2="1386.00" stroke="#0c0c0c" stroke-width="3.0" stroke-linecap="round"/>
<line x1="541.00" y1="1380.25" x2="541.00" y2="1386.00" stroke="#0c0c0c" stroke-width="3.0" stroke-linecap="round"/>
<text transform="translate(50.98,1029.36) rotate(-90) scale(1.0131,1)" font-size="16.30" fill="#111" stroke="#111" stroke-width="0.45" style="font-kerning:none"> 4</text>
<path transform="translate(50.98,1029.36) rotate(-90) scale(1.0131,1) translate(0.000,0) scale(0.00796,-0.00796)" d="M515,0 L515,1237 L197,1010 L197,1180 L530,1409 L696,1409 L696,0 Z" fill="#111" stroke="#111" stroke-width="56.5"/>
<text transform="translate(50.98,1116.95) rotate(-90) scale(1.0168,1)" font-size="16.07" fill="#111" stroke="#111" stroke-width="0.45" style="font-kerning:none"> 2</text>
<path transform="translate(50.98,1116.95) rotate(-90) scale(1.0168,1) translate(0.000,0) scale(0.00785,-0.00785)" d="M515,0 L515,1237 L197,1010 L197,1180 L530,1409 L696,1409 L696,0 Z" fill="#111" stroke="#111" stroke-width="57.3"/>
<text transform="translate(50.82,1203.91) rotate(-90) scale(1.0078,1)" font-size="15.85" fill="#111" stroke="#111" stroke-width="0.45" style="font-kerning:none"> 0</text>
<path transform="translate(50.82,1203.91) rotate(-90) scale(1.0078,1) translate(0.000,0) scale(0.00774,-0.00774)" d="M515,0 L515,1237 L197,1010 L197,1180 L530,1409 L696,1409 L696,0 Z" fill="#111" stroke="#111" stroke-width="58.2"/>
<text transform="translate(50.91,1282.07) rotate(-90) scale(0.8935,1)" font-size="16.55" fill="#111" stroke="#111" stroke-width="0.45">8</text>
<text transform="translate(50.91,1369.72) rotate(-90) scale(1.0180,1)" font-size="16.55" fill="#111" stroke="#111" stroke-width="0.45">6</text>
<text transform="translate(106.73,1402.43) scale(1.0696,1)" font-size="14.58" fill="#111" stroke="#111" stroke-width="0.45" style="font-kerning:none"> .0</text>
<path transform="translate(106.73,1402.43) scale(1.0696,1) translate(0.000,0) scale(0.00712,-0.00712)" d="M515,0 L515,1237 L197,1010 L197,1180 L530,1409 L696,1409 L696,0 Z" fill="#111" stroke="#111" stroke-width="63.2"/>
<text transform="translate(248.70,1402.43) scale(1.0707,1)" font-size="14.79" fill="#111" stroke="#111" stroke-width="0.45" style="font-kerning:none"> .5</text>
<path transform="translate(248.70,1402.43) scale(1.0707,1) translate(0.000,0) scale(0.00722,-0.00722)" d="M515,0 L515,1237 L197,1010 L197,1180 L530,1409 L696,1409 L696,0 Z" fill="#111" stroke="#111" stroke-width="62.3"/>
<text transform="translate(390.75,1402.43) scale(1.0483,1)" font-size="14.86" fill="#111" stroke="#111" stroke-width="0.45">2.0</text>
<text transform="translate(532.73,1402.43) scale(1.0742,1)" font-size="14.86" fill="#111" stroke="#111" stroke-width="0.45">2.5</text>
<text transform="translate(161.11,1433.46) scale(0.9593,1)" font-size="18.88" fill="#111" stroke="#111" stroke-width="0.15" style="font-kerning:none">log 0-transformed (Vitamin D(nmol/L))</text>
<path transform="translate(161.11,1433.46) scale(0.9593,1) translate(25.199,0) scale(0.00922,-0.00922)" d="M515,0 L515,1237 L197,1010 L197,1180 L530,1409 L696,1409 L696,0 Z" fill="#111" stroke="#111" stroke-width="16.3"/>
<text transform="translate(16.49,1239.69) rotate(-90) scale(0.9057,1)" font-size="20.17" fill="#111" stroke="#111" stroke-width="0.15">Manganese</text>
<text transform="translate(-1.75,1026.40) scale(0.9344,1)" font-size="27.39" fill="#111" stroke="#111" stroke-width="0.6">D</text>
<g clip-path="url(#clip3)">
<path d="M83.30,1119.17 L84.80,1119.77 L86.30,1120.38 L87.80,1121.00 L89.30,1121.63 L90.80,1122.26 L92.29,1122.90 L93.79,1123.55 L95.29,1124.20 L96.79,1124.86 L98.29,1125.52 L99.79,1126.19 L101.29,1126.87 L102.79,1127.55 L104.29,1128.24 L105.79,1128.94 L107.29,1129.63 L108.78,1130.34 L110.28,1131.05 L111.78,1131.76 L113.28,1132.48 L114.78,1133.20 L116.28,1133.92 L117.78,1134.65 L119.28,1135.39 L120.78,1136.12 L122.28,1136.86 L123.78,1137.61 L125.27,1138.35 L126.77,1139.10 L128.27,1139.85 L129.77,1140.61 L131.27,1141.36 L132.77,1142.12 L134.27,1142.88 L135.77,1143.64 L137.27,1144.41 L138.77,1145.17 L140.27,1145.94 L141.76,1146.70 L143.26,1147.47 L144.76,1148.24 L146.26,1149.01 L147.76,1149.78 L149.26,1150.55 L150.76,1151.31 L152.26,1152.08 L153.76,1152.85 L155.26,1153.62 L156.76,1154.38 L158.25,1155.15 L159.75,1155.91 L161.25,1156.68 L162.75,1157.44 L164.25,1158.20 L165.75,1158.96 L167.25,1159.71 L168.75,1160.47 L170.25,1161.22 L171.75,1161.97 L173.25,1162.71 L174.74,1163.45 L176.24,1164.19 L177.74,1164.93 L179.24,1165.66 L180.74,1166.39 L182.24,1167.12 L183.74,1167.84 L185.24,1168.55 L186.74,1169.27 L188.24,1169.97 L189.74,1170.68 L191.23,1171.37 L192.73,1172.07 L194.23,1172.76 L195.73,1173.44 L197.23,1174.11 L198.73,1174.78 L200.23,1175.45 L201.73,1176.11 L203.23,1176.76 L204.73,1177.40 L206.23,1178.04 L207.72,1178.67 L209.22,1179.30 L210.72,1179.91 L212.22,1180.52 L213.72,1181.12 L215.22,1181.72 L216.72,1182.30 L218.22,1182.88 L219.72,1183.45 L221.22,1184.01 L222.72,1184.56 L224.21,1185.11 L225.71,1185.64 L227.21,1186.17 L228.71,1186.68 L230.21,1187.19 L231.71,1187.68 L233.21,1188.17 L234.71,1188.65 L236.21,1189.11 L237.71,1189.57 L239.21,1190.02 L240.70,1190.45 L242.20,1190.88 L243.70,1191.30 L245.20,1191.70 L246.70,1192.09 L248.20,1192.48 L249.70,1192.85 L251.20,1193.21 L252.70,1193.55 L254.20,1193.89 L255.70,1194.21 L257.19,1194.53 L258.69,1194.83 L260.19,1195.12 L261.69,1195.39 L263.19,1195.65 L264.69,1195.91 L266.19,1196.14 L267.69,1196.37 L269.19,1196.58 L270.69,1196.78 L272.19,1196.96 L273.68,1197.14 L275.18,1197.29 L276.68,1197.44 L278.18,1197.57 L279.68,1197.69 L281.18,1197.79 L282.68,1197.88 L284.18,1197.95 L285.68,1198.01 L287.18,1198.07 L288.68,1198.10 L290.17,1198.13 L291.67,1198.15 L293.17,1198.15 L294.67,1198.15 L296.17,1198.14 L297.67,1198.12 L299.17,1198.09 L300.67,1198.05 L302.17,1198.01 L303.67,1197.96 L305.17,1197.90 L306.66,1197.84 L308.16,1197.78 L309.66,1197.71 L311.16,1197.63 L312.66,1197.55 L314.16,1197.47 L315.66,1197.39 L317.16,1197.30 L318.66,1197.22 L320.16,1197.13 L321.66,1197.04 L323.15,1196.96 L324.65,1196.87 L326.15,1196.79 L327.65,1196.71 L329.15,1196.62 L330.65,1196.55 L332.15,1196.47 L333.65,1196.40 L335.15,1196.34 L336.65,1196.28 L338.14,1196.22 L339.64,1196.17 L341.14,1196.13 L342.64,1196.10 L344.14,1196.07 L345.64,1196.05 L347.14,1196.03 L348.64,1196.02 L350.14,1196.02 L351.64,1196.03 L353.14,1196.04 L354.63,1196.06 L356.13,1196.08 L357.63,1196.12 L359.13,1196.16 L360.63,1196.20 L362.13,1196.26 L363.63,1196.32 L365.13,1196.39 L366.63,1196.46 L368.13,1196.55 L369.63,1196.64 L371.12,1196.73 L372.62,1196.84 L374.12,1196.95 L375.62,1197.07 L377.12,1197.19 L378.62,1197.33 L380.12,1197.47 L381.62,1197.62 L383.12,1197.77 L384.62,1197.94 L386.12,1198.11 L387.61,1198.29 L389.11,1198.47 L390.61,1198.67 L392.11,1198.87 L393.61,1199.08 L395.11,1199.29 L396.61,1199.52 L398.11,1199.75 L399.61,1199.99 L401.11,1200.24 L402.61,1200.49 L404.10,1200.75 L405.60,1201.02 L407.10,1201.30 L408.60,1201.59 L410.10,1201.88 L411.60,1202.18 L413.10,1202.49 L414.60,1202.80 L416.10,1203.13 L417.60,1203.46 L419.10,1203.80 L420.59,1204.14 L422.09,1204.49 L423.59,1204.85 L425.09,1205.22 L426.59,1205.59 L428.09,1205.97 L429.59,1206.36 L431.09,1206.75 L432.59,1207.16 L434.09,1207.56 L435.59,1207.98 L437.08,1208.40 L438.58,1208.83 L440.08,1209.27 L441.58,1209.71 L443.08,1210.16 L444.58,1210.61 L446.08,1211.08 L447.58,1211.55 L449.08,1212.02 L450.58,1212.50 L452.08,1212.99 L453.57,1213.48 L455.07,1213.98 L456.57,1214.49 L458.07,1215.00 L459.57,1215.51 L461.07,1216.03 L462.57,1216.56 L464.07,1217.08 L465.57,1217.61 L467.07,1218.15 L468.57,1218.69 L470.06,1219.23 L471.56,1219.77 L473.06,1220.31 L474.56,1220.86 L476.06,1221.41 L477.56,1221.96 L479.06,1222.51 L480.56,1223.07 L482.06,1223.62 L483.56,1224.17 L485.06,1224.73 L486.55,1225.28 L488.05,1225.84 L489.55,1226.39 L491.05,1226.94 L492.55,1227.49 L494.05,1228.04 L495.55,1228.59 L497.05,1229.14 L498.55,1229.69 L500.05,1230.23 L501.55,1230.78 L503.04,1231.32 L504.54,1231.86 L506.04,1232.40 L507.54,1232.94 L509.04,1233.48 L510.54,1234.01 L512.04,1234.55 L513.54,1235.08 L515.04,1235.61 L516.54,1236.14 L518.04,1236.67 L519.53,1237.20 L521.03,1237.72 L522.53,1238.24 L524.03,1238.76 L525.53,1239.28 L527.03,1239.80 L528.53,1240.32 L530.03,1240.83 L531.53,1241.34 L533.03,1241.86 L534.53,1242.36 L536.02,1242.87 L537.52,1243.38 L539.02,1243.88 L540.52,1244.38 L542.02,1244.88 L543.52,1245.37 L545.02,1245.87 L546.52,1246.36 L548.02,1246.85 L549.52,1247.34 L551.02,1247.82 L552.51,1248.31 L554.01,1248.79 L555.51,1249.27 L557.01,1249.75 L558.51,1250.22 L560.01,1250.69 L561.51,1251.16 L563.01,1251.63 L564.51,1252.09 L566.01,1252.55 L567.51,1253.01 L569.00,1253.47 L570.50,1253.93 L572.00,1254.38 L573.50,1254.83 L575.00,1255.27 L576.50,1255.72" fill="none" stroke="#3550aa" stroke-width="4.5" stroke-linecap="round" stroke-linejoin="round"/>
<path d="M83.30,1047.27 L84.80,1049.12 L86.30,1050.97 L87.80,1052.81 L89.30,1054.64 L90.80,1056.47 L92.30,1058.29 L93.80,1060.11 L95.30,1061.92 L96.80,1063.72 L98.30,1065.51 L99.80,1067.30 L101.30,1069.08 L102.80,1070.85 L104.30,1072.62 L105.80,1074.37 L107.30,1076.12 L108.79,1077.86 L110.29,1079.59 L111.79,1081.32 L113.29,1083.03 L114.79,1084.74 L116.29,1086.43 L117.79,1088.12 L119.29,1089.80 L120.79,1091.47 L122.29,1093.12 L123.79,1094.77 L125.29,1096.41 L126.79,1098.04 L128.29,1099.66 L129.79,1101.26 L131.29,1102.86 L132.79,1104.44 L134.29,1106.02 L135.79,1107.58 L137.29,1109.13 L138.79,1110.67 L140.29,1112.19 L141.79,1113.71 L143.29,1115.21 L144.79,1116.70 L146.29,1118.18 L147.79,1119.64 L149.29,1121.10 L150.79,1122.53 L152.29,1123.96 L153.79,1125.37 L155.29,1126.77 L156.79,1128.16 L158.28,1129.53 L159.78,1130.88 L161.28,1132.22 L162.78,1133.55 L164.28,1134.87 L165.78,1136.16 L167.28,1137.45 L168.78,1138.72 L170.28,1139.97 L171.78,1141.21 L173.28,1142.43 L174.78,1143.64 L176.28,1144.84 L177.78,1146.02 L179.28,1147.19 L180.78,1148.34 L182.28,1149.47 L183.78,1150.60 L185.28,1151.70 L186.78,1152.80 L188.28,1153.88 L189.78,1154.94 L191.28,1155.99 L192.78,1157.03 L194.28,1158.05 L195.78,1159.06 L197.28,1160.05 L198.78,1161.03 L200.28,1162.00 L201.78,1162.95 L203.28,1163.89 L204.78,1164.81 L206.27,1165.72 L207.77,1166.62 L209.27,1167.50 L210.77,1168.37 L212.27,1169.23 L213.77,1170.07 L215.27,1170.90 L216.77,1171.71 L218.27,1172.51 L219.77,1173.30 L221.27,1174.07 L222.77,1174.83 L224.27,1175.58 L225.77,1176.31 L227.27,1177.03 L228.77,1177.74 L230.27,1178.43 L231.77,1179.11 L233.27,1179.78 L234.77,1180.44 L236.27,1181.08 L237.77,1181.70 L239.27,1182.32 L240.77,1182.92 L242.27,1183.51 L243.77,1184.09 L245.27,1184.65 L246.77,1185.20 L248.27,1185.73 L249.77,1186.25 L251.27,1186.75 L252.77,1187.24 L254.27,1187.72 L255.76,1188.18 L257.26,1188.62 L258.76,1189.04 L260.26,1189.45 L261.76,1189.85 L263.26,1190.22 L264.76,1190.58 L266.26,1190.92 L267.76,1191.24 L269.26,1191.55 L270.76,1191.83 L272.26,1192.10 L273.76,1192.34 L275.26,1192.57 L276.76,1192.78 L278.26,1192.97 L279.76,1193.14 L281.26,1193.28 L282.76,1193.41 L284.26,1193.52 L285.76,1193.61 L287.26,1193.68 L288.76,1193.74 L290.26,1193.79 L291.76,1193.81 L293.26,1193.83 L294.76,1193.83 L296.26,1193.83 L297.76,1193.81 L299.26,1193.78 L300.76,1193.74 L302.26,1193.70 L303.76,1193.65 L305.25,1193.59 L306.75,1193.53 L308.25,1193.46 L309.75,1193.39 L311.25,1193.32 L312.75,1193.24 L314.25,1193.16 L315.75,1193.08 L317.25,1192.99 L318.75,1192.91 L320.25,1192.82 L321.75,1192.74 L323.25,1192.66 L324.75,1192.58 L326.25,1192.50 L327.75,1192.43 L329.25,1192.36 L330.75,1192.29 L332.25,1192.23 L333.75,1192.17 L335.25,1192.13 L336.75,1192.09 L338.25,1192.05 L339.75,1192.03 L341.25,1192.01 L342.75,1192.00 L344.25,1192.00 L345.75,1192.01 L347.25,1192.03 L348.75,1192.05 L350.25,1192.07 L351.75,1192.11 L353.24,1192.14 L354.74,1192.19 L356.24,1192.23 L357.74,1192.28 L359.24,1192.33 L360.74,1192.38 L362.24,1192.44 L363.74,1192.50 L365.24,1192.55 L366.74,1192.61 L368.24,1192.67 L369.74,1192.74 L371.24,1192.80 L372.74,1192.87 L374.24,1192.93 L375.74,1193.00 L377.24,1193.07 L378.74,1193.14 L380.24,1193.22 L381.74,1193.29 L383.24,1193.36 L384.74,1193.44 L386.24,1193.52 L387.74,1193.59 L389.24,1193.67 L390.74,1193.75 L392.24,1193.83 L393.74,1193.91 L395.24,1194.00 L396.74,1194.08 L398.24,1194.16 L399.74,1194.25 L401.24,1194.33 L402.73,1194.42 L404.23,1194.50 L405.73,1194.59 L407.23,1194.68 L408.73,1194.76 L410.23,1194.85 L411.73,1194.94 L413.23,1195.03 L414.73,1195.12 L416.23,1195.20 L417.73,1195.29 L419.23,1195.38 L420.73,1195.47 L422.23,1195.56 L423.73,1195.65 L425.23,1195.74 L426.73,1195.83 L428.23,1195.92 L429.73,1196.01 L431.23,1196.10 L432.73,1196.18 L434.23,1196.27 L435.73,1196.36 L437.23,1196.45 L438.73,1196.53 L440.23,1196.62 L441.73,1196.71 L443.23,1196.79 L444.73,1196.87 L446.23,1196.95 L447.73,1197.03 L449.23,1197.11 L450.73,1197.18 L452.22,1197.24 L453.72,1197.31 L455.22,1197.36 L456.72,1197.41 L458.22,1197.45 L459.72,1197.49 L461.22,1197.52 L462.72,1197.54 L464.22,1197.55 L465.72,1197.56 L467.22,1197.55 L468.72,1197.53 L470.22,1197.50 L471.72,1197.46 L473.22,1197.41 L474.72,1197.35 L476.22,1197.27 L477.72,1197.18 L479.22,1197.08 L480.72,1196.96 L482.22,1196.83 L483.72,1196.68 L485.22,1196.52 L486.72,1196.33 L488.22,1196.14 L489.72,1195.92 L491.22,1195.69 L492.72,1195.44 L494.22,1195.17 L495.72,1194.89 L497.22,1194.59 L498.72,1194.28 L500.21,1193.95 L501.71,1193.60 L503.21,1193.24 L504.71,1192.87 L506.21,1192.48 L507.71,1192.07 L509.21,1191.65 L510.71,1191.21 L512.21,1190.76 L513.71,1190.30 L515.21,1189.82 L516.71,1189.33 L518.21,1188.82 L519.71,1188.30 L521.21,1187.77 L522.71,1187.22 L524.21,1186.66 L525.71,1186.09 L527.21,1185.50 L528.71,1184.90 L530.21,1184.29 L531.71,1183.67 L533.21,1183.03 L534.71,1182.38 L536.21,1181.73 L537.71,1181.07 L539.21,1180.40 L540.71,1179.72 L542.21,1179.04 L543.71,1178.35 L545.21,1177.66 L546.71,1176.97 L548.21,1176.28 L549.70,1175.59 L551.20,1174.90 L552.70,1174.22 L554.20,1173.53 L555.70,1172.86 L557.20,1172.18 L558.70,1171.52 L560.20,1170.86 L561.70,1170.21 L563.20,1169.57 L564.70,1168.94 L566.20,1168.33 L567.70,1167.73 L569.20,1167.14 L570.70,1166.56 L572.20,1166.01 L573.70,1165.47" pathLength="71" fill="none" stroke="#7548a8" stroke-width="2.15" stroke-dasharray="0.02 0.98" stroke-dashoffset="0.01" stroke-linecap="round"/>
<path d="M83.30,1190.20 L84.80,1189.73 L86.29,1189.27 L87.79,1188.82 L89.28,1188.38 L90.78,1187.95 L92.28,1187.53 L93.77,1187.12 L95.27,1186.72 L96.76,1186.32 L98.26,1185.94 L99.76,1185.57 L101.25,1185.21 L102.75,1184.86 L104.24,1184.52 L105.74,1184.19 L107.24,1183.87 L108.73,1183.56 L110.23,1183.27 L111.72,1182.98 L113.22,1182.70 L114.72,1182.44 L116.21,1182.19 L117.71,1181.95 L119.21,1181.72 L120.70,1181.50 L122.20,1181.29 L123.69,1181.09 L125.19,1180.91 L126.69,1180.74 L128.18,1180.58 L129.68,1180.43 L131.17,1180.29 L132.67,1180.17 L134.17,1180.06 L135.66,1179.96 L137.16,1179.87 L138.65,1179.80 L140.15,1179.74 L141.65,1179.69 L143.14,1179.65 L144.64,1179.63 L146.13,1179.62 L147.63,1179.62 L149.13,1179.64 L150.62,1179.67 L152.12,1179.71 L153.61,1179.77 L155.11,1179.84 L156.61,1179.93 L158.10,1180.02 L159.60,1180.14 L161.09,1180.26 L162.59,1180.40 L164.09,1180.56 L165.58,1180.73 L167.08,1180.91 L168.57,1181.11 L170.07,1181.32 L171.57,1181.54 L173.06,1181.79 L174.56,1182.04 L176.06,1182.31 L177.55,1182.60 L179.05,1182.90 L180.54,1183.22 L182.04,1183.54 L183.54,1183.89 L185.03,1184.24 L186.53,1184.60 L188.02,1184.98 L189.52,1185.37 L191.02,1185.76 L192.51,1186.17 L194.01,1186.58 L195.50,1187.00 L197.00,1187.43 L198.50,1187.86 L199.99,1188.30 L201.49,1188.74 L202.98,1189.19 L204.48,1189.64 L205.98,1190.10 L207.47,1190.56 L208.97,1191.02 L210.46,1191.48 L211.96,1191.94 L213.46,1192.40 L214.95,1192.86 L216.45,1193.32 L217.94,1193.78 L219.44,1194.23 L220.94,1194.68 L222.43,1195.13 L223.93,1195.57 L225.42,1196.01 L226.92,1196.44 L228.42,1196.87 L229.91,1197.28 L231.41,1197.69 L232.90,1198.09 L234.40,1198.49 L235.90,1198.87 L237.39,1199.24 L238.89,1199.60 L240.39,1199.95 L241.88,1200.29 L243.38,1200.61 L244.87,1200.93 L246.37,1201.23 L247.87,1201.51 L249.36,1201.79 L250.86,1202.05 L252.35,1202.30 L253.85,1202.54 L255.35,1202.76 L256.84,1202.97 L258.34,1203.17 L259.83,1203.35 L261.33,1203.52 L262.83,1203.68 L264.32,1203.82 L265.82,1203.95 L267.31,1204.07 L268.81,1204.17 L270.31,1204.26 L271.80,1204.33 L273.30,1204.39 L274.79,1204.44 L276.29,1204.47 L277.79,1204.49 L279.28,1204.49 L280.78,1204.48 L282.27,1204.46 L283.77,1204.42 L285.27,1204.36 L286.76,1204.30 L288.26,1204.23 L289.75,1204.14 L291.25,1204.05 L292.75,1203.94 L294.24,1203.83 L295.74,1203.71 L297.23,1203.58 L298.73,1203.45 L300.23,1203.31 L301.72,1203.17 L303.22,1203.02 L304.72,1202.87 L306.21,1202.72 L307.71,1202.57 L309.20,1202.41 L310.70,1202.25 L312.20,1202.09 L313.69,1201.93 L315.19,1201.78 L316.68,1201.62 L318.18,1201.46 L319.68,1201.31 L321.17,1201.16 L322.67,1201.02 L324.16,1200.87 L325.66,1200.74 L327.16,1200.61 L328.65,1200.48 L330.15,1200.36 L331.64,1200.25 L333.14,1200.14 L334.64,1200.05 L336.13,1199.96 L337.63,1199.88 L339.12,1199.81 L340.62,1199.76 L342.12,1199.71 L343.61,1199.67 L345.11,1199.65 L346.60,1199.63 L348.10,1199.63 L349.60,1199.64 L351.09,1199.65 L352.59,1199.68 L354.08,1199.71 L355.58,1199.76 L357.08,1199.81 L358.57,1199.87 L360.07,1199.95 L361.57,1200.03 L363.06,1200.12 L364.56,1200.22 L366.05,1200.33 L367.55,1200.45 L369.05,1200.58 L370.54,1200.72 L372.04,1200.87 L373.53,1201.02 L375.03,1201.19 L376.53,1201.37 L378.02,1201.56 L379.52,1201.77 L381.01,1201.98 L382.51,1202.20 L384.01,1202.43 L385.50,1202.68 L387.00,1202.94 L388.49,1203.20 L389.99,1203.48 L391.49,1203.78 L392.98,1204.08 L394.48,1204.40 L395.97,1204.73 L397.47,1205.07 L398.97,1205.42 L400.46,1205.79 L401.96,1206.16 L403.45,1206.56 L404.95,1206.96 L406.45,1207.38 L407.94,1207.81 L409.44,1208.26 L410.93,1208.71 L412.43,1209.19 L413.93,1209.67 L415.42,1210.17 L416.92,1210.69 L418.41,1211.22 L419.91,1211.76 L421.41,1212.32 L422.90,1212.90 L424.40,1213.48 L425.90,1214.09 L427.39,1214.71 L428.89,1215.34 L430.38,1215.99 L431.88,1216.66 L433.38,1217.34 L434.87,1218.03 L436.37,1218.75 L437.86,1219.48 L439.36,1220.22 L440.86,1220.99 L442.35,1221.77 L443.85,1222.56 L445.34,1223.37 L446.84,1224.20 L448.34,1225.05 L449.83,1225.92 L451.33,1226.80 L452.82,1227.70 L454.32,1228.61 L455.82,1229.55 L457.31,1230.50 L458.81,1231.47 L460.30,1232.46 L461.80,1233.47 L463.30,1234.50 L464.79,1235.54 L466.29,1236.61 L467.78,1237.69 L469.28,1238.79 L470.78,1239.92 L472.27,1241.06 L473.77,1242.22 L475.26,1243.40 L476.76,1244.60 L478.26,1245.81 L479.75,1247.05 L481.25,1248.30 L482.74,1249.57 L484.24,1250.86 L485.74,1252.16 L487.23,1253.48 L488.73,1254.82 L490.23,1256.17 L491.72,1257.53 L493.22,1258.91 L494.71,1260.31 L496.21,1261.72 L497.71,1263.14 L499.20,1264.58 L500.70,1266.03 L502.19,1267.49 L503.69,1268.96 L505.19,1270.44 L506.68,1271.94 L508.18,1273.45 L509.67,1274.96 L511.17,1276.49 L512.67,1278.03 L514.16,1279.58 L515.66,1281.13 L517.15,1282.70 L518.65,1284.27 L520.15,1285.85 L521.64,1287.44 L523.14,1289.03 L524.63,1290.63 L526.13,1292.24 L527.63,1293.86 L529.12,1295.48 L530.62,1297.10 L532.11,1298.73 L533.61,1300.37 L535.11,1302.00 L536.60,1303.65 L538.10,1305.29 L539.59,1306.94 L541.09,1308.59 L542.59,1310.25 L544.08,1311.90 L545.58,1313.56 L547.08,1315.22 L548.57,1316.88 L550.07,1318.53 L551.56,1320.19 L553.06,1321.85 L554.56,1323.51 L556.05,1325.17 L557.55,1326.82 L559.04,1328.48 L560.54,1330.13 L562.04,1331.77 L563.53,1333.42 L565.03,1335.06 L566.52,1336.70 L568.02,1338.33 L569.52,1339.96 L571.01,1341.59 L572.51,1343.21 L574.00,1344.82 L575.50,1346.43" pathLength="71" fill="none" stroke="#7548a8" stroke-width="2.15" stroke-dasharray="0.02 0.98" stroke-dashoffset="0.01" stroke-linecap="round"/>
</g>
<line x1="84.10" y1="1368.30" x2="84.10" y2="1381.00" stroke="#3650a9" stroke-width="1.4"/>
<line x1="106.70" y1="1368.30" x2="106.70" y2="1381.00" stroke="#3650a9" stroke-width="1.4"/>
<line x1="113.90" y1="1368.30" x2="113.90" y2="1381.00" stroke="#3650a9" stroke-width="1.4"/>
<rect x="121.30" y="1368.30" width="3.70" height="12.70" fill="#3650a9"/>
<line x1="132.60" y1="1368.30" x2="132.60" y2="1381.00" stroke="#3650a9" stroke-width="1.4"/>
<rect x="136.30" y="1368.30" width="4.40" height="12.70" fill="#3650a9"/>
<line x1="145.40" y1="1368.30" x2="145.40" y2="1381.00" stroke="#3650a9" stroke-width="1.4"/>
<line x1="147.70" y1="1368.30" x2="147.70" y2="1381.00" stroke="#3650a9" stroke-width="1.4"/>
<line x1="149.70" y1="1368.30" x2="149.70" y2="1381.00" stroke="#3650a9" stroke-width="1.4"/>
<rect x="150.60" y="1368.30" width="340.40" height="12.70" fill="#3650a9"/>
<rect x="493.50" y="1368.30" width="4.40" height="12.70" fill="#3650a9"/>
<line x1="499.60" y1="1368.30" x2="499.60" y2="1381.00" stroke="#3650a9" stroke-width="1.4"/>
<line x1="501.90" y1="1368.30" x2="501.90" y2="1381.00" stroke="#3650a9" stroke-width="1.4"/>
<line x1="513.00" y1="1368.30" x2="513.00" y2="1381.00" stroke="#3650a9" stroke-width="1.4"/>
<line x1="577.00" y1="1368.30" x2="577.00" y2="1381.00" stroke="#3650a9" stroke-width="1.4"/>
<line x1="162.00" y1="1368.30" x2="162.00" y2="1381.00" stroke="#9aa6d8" stroke-width="0.8"/>
<line x1="165.80" y1="1368.30" x2="165.80" y2="1381.00" stroke="#9aa6d8" stroke-width="0.8"/>
<line x1="179.00" y1="1368.30" x2="179.00" y2="1381.00" stroke="#9aa6d8" stroke-width="0.8"/>
<line x1="457.60" y1="1368.30" x2="457.60" y2="1381.00" stroke="#9aa6d8" stroke-width="0.8"/>
<line x1="469.00" y1="1368.30" x2="469.00" y2="1381.00" stroke="#9aa6d8" stroke-width="0.8"/>
<line x1="476.30" y1="1368.30" x2="476.30" y2="1381.00" stroke="#9aa6d8" stroke-width="0.8"/>
<line x1="483.00" y1="1368.30" x2="483.00" y2="1381.00" stroke="#9aa6d8" stroke-width="0.8"/>
<clipPath id="clip4"><rect x="675.25" y="1005.10" width="523.95" height="373.80"/></clipPath>
<line x1="675.25" y1="1005.10" x2="675.25" y2="1378.90" stroke="#0c0c0c" stroke-width="3.1" stroke-linecap="round"/>
<line x1="1199.20" y1="1005.10" x2="1199.20" y2="1378.90" stroke="#0c0c0c" stroke-width="3.0" stroke-linecap="round"/>
<line x1="675.25" y1="1005.10" x2="1199.20" y2="1005.10" stroke="#0c0c0c" stroke-width="3.4" stroke-linecap="round"/>
<line x1="675.25" y1="1378.90" x2="1199.20" y2="1378.90" stroke="#0c0c0c" stroke-width="2.6" stroke-linecap="round"/>
<line x1="669.05" y1="1018.30" x2="675.25" y2="1018.30" stroke="#0c0c0c" stroke-width="2.5" stroke-linecap="round"/>
<line x1="669.05" y1="1105.00" x2="675.25" y2="1105.00" stroke="#0c0c0c" stroke-width="2.5" stroke-linecap="round"/>
<line x1="669.05" y1="1191.70" x2="675.25" y2="1191.70" stroke="#0c0c0c" stroke-width="2.5" stroke-linecap="round"/>
<line x1="669.05" y1="1278.40" x2="675.25" y2="1278.40" stroke="#0c0c0c" stroke-width="2.5" stroke-linecap="round"/>
<line x1="669.05" y1="1365.10" x2="675.25" y2="1365.10" stroke="#0c0c0c" stroke-width="2.5" stroke-linecap="round"/>
<line x1="723.40" y1="1378.90" x2="723.40" y2="1384.30" stroke="#0c0c0c" stroke-width="3.0" stroke-linecap="round"/>
<line x1="866.00" y1="1378.90" x2="866.00" y2="1384.30" stroke="#0c0c0c" stroke-width="3.0" stroke-linecap="round"/>
<line x1="1008.80" y1="1378.90" x2="1008.80" y2="1384.30" stroke="#0c0c0c" stroke-width="3.0" stroke-linecap="round"/>
<line x1="1151.00" y1="1378.90" x2="1151.00" y2="1384.30" stroke="#0c0c0c" stroke-width="3.0" stroke-linecap="round"/>
<text transform="translate(659.61,1032.41) rotate(-90) scale(0.9504,1)" font-size="16.55" fill="#111" stroke="#111" stroke-width="0.45">220</text>
<text transform="translate(659.61,1119.11) rotate(-90) scale(0.9504,1)" font-size="16.55" fill="#111" stroke="#111" stroke-width="0.45" style="font-kerning:none">2 0</text>
<path transform="translate(659.61,1119.11) rotate(-90) scale(0.9504,1) translate(9.204,0) scale(0.00808,-0.00808)" d="M515,0 L515,1237 L197,1010 L197,1180 L530,1409 L696,1409 L696,0 Z" fill="#111" stroke="#111" stroke-width="55.7"/>
<text transform="translate(659.61,1205.81) rotate(-90) scale(0.9504,1)" font-size="16.55" fill="#111" stroke="#111" stroke-width="0.45">200</text>
<text transform="translate(659.61,1293.28) rotate(-90) scale(0.9790,1)" font-size="16.55" fill="#111" stroke="#111" stroke-width="0.45" style="font-kerning:none"> 90</text>
<path transform="translate(659.61,1293.28) rotate(-90) scale(0.9790,1) translate(0.000,0) scale(0.00808,-0.00808)" d="M515,0 L515,1237 L197,1010 L197,1180 L530,1409 L696,1409 L696,0 Z" fill="#111" stroke="#111" stroke-width="55.7"/>
<text transform="translate(659.61,1379.98) rotate(-90) scale(0.9790,1)" font-size="16.55" fill="#111" stroke="#111" stroke-width="0.45" style="font-kerning:none"> 80</text>
<path transform="translate(659.61,1379.98) rotate(-90) scale(0.9790,1) translate(0.000,0) scale(0.00808,-0.00808)" d="M515,0 L515,1237 L197,1010 L197,1180 L530,1409 L696,1409 L696,0 Z" fill="#111" stroke="#111" stroke-width="55.7"/>
<text transform="translate(714.99,1400.83) scale(1.0811,1)" font-size="14.72" fill="#111" stroke="#111" stroke-width="0.45" style="font-kerning:none"> .0</text>
<path transform="translate(714.99,1400.83) scale(1.0811,1) translate(0.000,0) scale(0.00719,-0.00719)" d="M515,0 L515,1237 L197,1010 L197,1180 L530,1409 L696,1409 L696,0 Z" fill="#111" stroke="#111" stroke-width="62.6"/>
<text transform="translate(857.90,1400.83) scale(1.0605,1)" font-size="14.93" fill="#111" stroke="#111" stroke-width="0.45" style="font-kerning:none"> .5</text>
<path transform="translate(857.90,1400.83) scale(1.0605,1) translate(0.000,0) scale(0.00729,-0.00729)" d="M515,0 L515,1237 L197,1010 L197,1180 L530,1409 L696,1409 L696,0 Z" fill="#111" stroke="#111" stroke-width="61.7"/>
<text transform="translate(1000.23,1400.83) scale(1.0845,1)" font-size="14.72" fill="#111" stroke="#111" stroke-width="0.45">2.0</text>
<text transform="translate(1142.71,1400.83) scale(1.1106,1)" font-size="14.72" fill="#111" stroke="#111" stroke-width="0.45">2.5</text>
<text transform="translate(786.11,1433.46) scale(0.9585,1)" font-size="18.88" fill="#111" stroke="#111" stroke-width="0.15" style="font-kerning:none">log 0-transformed (Vitamin D(nmol/L))</text>
<path transform="translate(786.11,1433.46) scale(0.9585,1) translate(25.199,0) scale(0.00922,-0.00922)" d="M515,0 L515,1237 L197,1010 L197,1180 L530,1409 L696,1409 L696,0 Z" fill="#111" stroke="#111" stroke-width="16.3"/>
<text transform="translate(632.34,1228.64) rotate(-90) scale(0.9885,1)" font-size="18.45" fill="#111" stroke="#111" stroke-width="0.15">Selenium</text>
<text transform="translate(617.45,1026.60) scale(0.9368,1)" font-size="27.97" fill="#111" stroke="#111" stroke-width="0.6">E</text>
<g clip-path="url(#clip4)">
<path d="M693.00,1274.14 L694.50,1273.81 L696.00,1273.49 L697.50,1273.16 L698.99,1272.84 L700.49,1272.53 L701.99,1272.22 L703.49,1271.91 L704.99,1271.60 L706.49,1271.30 L707.98,1271.00 L709.48,1270.70 L710.98,1270.41 L712.48,1270.12 L713.98,1269.84 L715.48,1269.55 L716.98,1269.27 L718.47,1269.00 L719.97,1268.72 L721.47,1268.45 L722.97,1268.18 L724.47,1267.92 L725.97,1267.66 L727.47,1267.40 L728.96,1267.14 L730.46,1266.89 L731.96,1266.64 L733.46,1266.39 L734.96,1266.15 L736.46,1265.91 L737.95,1265.67 L739.45,1265.43 L740.95,1265.20 L742.45,1264.97 L743.95,1264.74 L745.45,1264.51 L746.95,1264.29 L748.44,1264.07 L749.94,1263.85 L751.44,1263.63 L752.94,1263.42 L754.44,1263.21 L755.94,1263.00 L757.43,1262.80 L758.93,1262.59 L760.43,1262.39 L761.93,1262.19 L763.43,1261.99 L764.93,1261.80 L766.43,1261.61 L767.92,1261.42 L769.42,1261.23 L770.92,1261.04 L772.42,1260.86 L773.92,1260.68 L775.42,1260.50 L776.92,1260.32 L778.41,1260.15 L779.91,1259.97 L781.41,1259.80 L782.91,1259.63 L784.41,1259.46 L785.91,1259.30 L787.40,1259.13 L788.90,1258.97 L790.40,1258.81 L791.90,1258.65 L793.40,1258.49 L794.90,1258.34 L796.40,1258.19 L797.89,1258.03 L799.39,1257.88 L800.89,1257.73 L802.39,1257.59 L803.89,1257.44 L805.39,1257.30 L806.88,1257.15 L808.38,1257.01 L809.88,1256.87 L811.38,1256.73 L812.88,1256.60 L814.38,1256.46 L815.88,1256.33 L817.37,1256.19 L818.87,1256.06 L820.37,1255.93 L821.87,1255.80 L823.37,1255.67 L824.87,1255.55 L826.37,1255.42 L827.86,1255.30 L829.36,1255.17 L830.86,1255.05 L832.36,1254.93 L833.86,1254.81 L835.36,1254.69 L836.85,1254.57 L838.35,1254.45 L839.85,1254.33 L841.35,1254.22 L842.85,1254.10 L844.35,1253.99 L845.85,1253.87 L847.34,1253.76 L848.84,1253.64 L850.34,1253.53 L851.84,1253.42 L853.34,1253.31 L854.84,1253.19 L856.33,1253.08 L857.83,1252.97 L859.33,1252.85 L860.83,1252.74 L862.33,1252.63 L863.83,1252.51 L865.33,1252.40 L866.82,1252.28 L868.32,1252.16 L869.82,1252.04 L871.32,1251.93 L872.82,1251.81 L874.32,1251.68 L875.82,1251.56 L877.31,1251.44 L878.81,1251.31 L880.31,1251.18 L881.81,1251.05 L883.31,1250.92 L884.81,1250.79 L886.30,1250.66 L887.80,1250.52 L889.30,1250.38 L890.80,1250.24 L892.30,1250.10 L893.80,1249.95 L895.30,1249.80 L896.79,1249.65 L898.29,1249.50 L899.79,1249.34 L901.29,1249.18 L902.79,1249.02 L904.29,1248.85 L905.78,1248.68 L907.28,1248.51 L908.78,1248.33 L910.28,1248.15 L911.78,1247.97 L913.28,1247.78 L914.78,1247.59 L916.27,1247.40 L917.77,1247.20 L919.27,1247.00 L920.77,1246.79 L922.27,1246.58 L923.77,1246.36 L925.27,1246.14 L926.76,1245.92 L928.26,1245.69 L929.76,1245.45 L931.26,1245.22 L932.76,1244.97 L934.26,1244.72 L935.75,1244.47 L937.25,1244.21 L938.75,1243.95 L940.25,1243.68 L941.75,1243.40 L943.25,1243.12 L944.75,1242.83 L946.24,1242.54 L947.74,1242.24 L949.24,1241.94 L950.74,1241.63 L952.24,1241.31 L953.74,1240.99 L955.23,1240.66 L956.73,1240.32 L958.23,1239.98 L959.73,1239.63 L961.23,1239.27 L962.73,1238.91 L964.23,1238.54 L965.72,1238.17 L967.22,1237.78 L968.72,1237.39 L970.22,1236.99 L971.72,1236.59 L973.22,1236.17 L974.72,1235.75 L976.21,1235.32 L977.71,1234.89 L979.21,1234.44 L980.71,1233.99 L982.21,1233.53 L983.71,1233.06 L985.20,1232.58 L986.70,1232.10 L988.20,1231.61 L989.70,1231.10 L991.20,1230.59 L992.70,1230.07 L994.20,1229.54 L995.69,1229.01 L997.19,1228.46 L998.69,1227.91 L1000.19,1227.35 L1001.69,1226.78 L1003.19,1226.20 L1004.68,1225.62 L1006.18,1225.03 L1007.68,1224.43 L1009.18,1223.82 L1010.68,1223.20 L1012.18,1222.58 L1013.68,1221.95 L1015.17,1221.31 L1016.67,1220.67 L1018.17,1220.02 L1019.67,1219.36 L1021.17,1218.69 L1022.67,1218.02 L1024.17,1217.34 L1025.66,1216.66 L1027.16,1215.97 L1028.66,1215.27 L1030.16,1214.57 L1031.66,1213.86 L1033.16,1213.14 L1034.65,1212.42 L1036.15,1211.69 L1037.65,1210.96 L1039.15,1210.22 L1040.65,1209.47 L1042.15,1208.72 L1043.65,1207.97 L1045.14,1207.21 L1046.64,1206.44 L1048.14,1205.67 L1049.64,1204.89 L1051.14,1204.11 L1052.64,1203.33 L1054.13,1202.54 L1055.63,1201.74 L1057.13,1200.94 L1058.63,1200.14 L1060.13,1199.33 L1061.63,1198.52 L1063.13,1197.70 L1064.62,1196.88 L1066.12,1196.05 L1067.62,1195.22 L1069.12,1194.39 L1070.62,1193.56 L1072.12,1192.72 L1073.62,1191.87 L1075.11,1191.03 L1076.61,1190.18 L1078.11,1189.32 L1079.61,1188.47 L1081.11,1187.61 L1082.61,1186.75 L1084.10,1185.88 L1085.60,1185.01 L1087.10,1184.14 L1088.60,1183.27 L1090.10,1182.40 L1091.60,1181.52 L1093.10,1180.64 L1094.59,1179.76 L1096.09,1178.87 L1097.59,1177.99 L1099.09,1177.10 L1100.59,1176.21 L1102.09,1175.32 L1103.58,1174.43 L1105.08,1173.53 L1106.58,1172.64 L1108.08,1171.74 L1109.58,1170.84 L1111.08,1169.94 L1112.58,1169.04 L1114.07,1168.14 L1115.57,1167.24 L1117.07,1166.34 L1118.57,1165.43 L1120.07,1164.53 L1121.57,1163.63 L1123.07,1162.72 L1124.56,1161.82 L1126.06,1160.91 L1127.56,1160.01 L1129.06,1159.10 L1130.56,1158.20 L1132.06,1157.29 L1133.55,1156.39 L1135.05,1155.48 L1136.55,1154.58 L1138.05,1153.68 L1139.55,1152.77 L1141.05,1151.87 L1142.55,1150.97 L1144.04,1150.07 L1145.54,1149.17 L1147.04,1148.28 L1148.54,1147.38 L1150.04,1146.49 L1151.54,1145.59 L1153.03,1144.70 L1154.53,1143.81 L1156.03,1142.92 L1157.53,1142.04 L1159.03,1141.15 L1160.53,1140.27 L1162.03,1139.39 L1163.52,1138.51 L1165.02,1137.64 L1166.52,1136.76 L1168.02,1135.89 L1169.52,1135.02 L1171.02,1134.16 L1172.52,1133.30 L1174.01,1132.44 L1175.51,1131.58 L1177.01,1130.73 L1178.51,1129.87 L1180.01,1129.03 L1181.51,1128.18 L1183.00,1127.34 L1184.50,1126.51 L1186.00,1125.67 L1187.50,1124.84" fill="none" stroke="#3550aa" stroke-width="4.5" stroke-linecap="round" stroke-linejoin="round"/>
<path d="M693.00,1205.85 L694.50,1206.58 L696.00,1207.31 L697.49,1208.03 L698.99,1208.74 L700.49,1209.45 L701.99,1210.14 L703.48,1210.83 L704.98,1211.51 L706.48,1212.18 L707.98,1212.84 L709.47,1213.50 L710.97,1214.15 L712.47,1214.79 L713.97,1215.42 L715.46,1216.04 L716.96,1216.66 L718.46,1217.26 L719.96,1217.86 L721.45,1218.46 L722.95,1219.04 L724.45,1219.62 L725.95,1220.18 L727.44,1220.74 L728.94,1221.30 L730.44,1221.84 L731.94,1222.38 L733.43,1222.91 L734.93,1223.43 L736.43,1223.94 L737.93,1224.45 L739.42,1224.95 L740.92,1225.44 L742.42,1225.92 L743.92,1226.39 L745.41,1226.86 L746.91,1227.32 L748.41,1227.77 L749.91,1228.22 L751.40,1228.65 L752.90,1229.08 L754.40,1229.50 L755.90,1229.91 L757.40,1230.32 L758.89,1230.72 L760.39,1231.11 L761.89,1231.49 L763.39,1231.87 L764.88,1232.23 L766.38,1232.59 L767.88,1232.94 L769.38,1233.29 L770.87,1233.63 L772.37,1233.96 L773.87,1234.28 L775.37,1234.59 L776.86,1234.90 L778.36,1235.20 L779.86,1235.50 L781.36,1235.79 L782.85,1236.07 L784.35,1236.34 L785.85,1236.61 L787.35,1236.87 L788.84,1237.13 L790.34,1237.38 L791.84,1237.62 L793.34,1237.86 L794.83,1238.09 L796.33,1238.32 L797.83,1238.54 L799.33,1238.76 L800.82,1238.96 L802.32,1239.17 L803.82,1239.37 L805.32,1239.56 L806.81,1239.75 L808.31,1239.93 L809.81,1240.11 L811.31,1240.28 L812.80,1240.45 L814.30,1240.61 L815.80,1240.77 L817.30,1240.93 L818.80,1241.08 L820.29,1241.23 L821.79,1241.37 L823.29,1241.50 L824.79,1241.64 L826.28,1241.77 L827.78,1241.89 L829.28,1242.02 L830.78,1242.13 L832.27,1242.25 L833.77,1242.36 L835.27,1242.47 L836.77,1242.57 L838.26,1242.67 L839.76,1242.76 L841.26,1242.86 L842.76,1242.94 L844.25,1243.03 L845.75,1243.11 L847.25,1243.18 L848.75,1243.26 L850.24,1243.33 L851.74,1243.39 L853.24,1243.45 L854.74,1243.51 L856.23,1243.57 L857.73,1243.62 L859.23,1243.67 L860.73,1243.71 L862.22,1243.75 L863.72,1243.79 L865.22,1243.82 L866.72,1243.85 L868.21,1243.87 L869.71,1243.89 L871.21,1243.91 L872.71,1243.93 L874.20,1243.94 L875.70,1243.95 L877.20,1243.95 L878.70,1243.95 L880.20,1243.95 L881.69,1243.94 L883.19,1243.93 L884.69,1243.92 L886.19,1243.90 L887.68,1243.88 L889.18,1243.86 L890.68,1243.83 L892.18,1243.80 L893.67,1243.76 L895.17,1243.73 L896.67,1243.68 L898.17,1243.64 L899.66,1243.59 L901.16,1243.54 L902.66,1243.49 L904.16,1243.43 L905.65,1243.37 L907.15,1243.30 L908.65,1243.23 L910.15,1243.16 L911.64,1243.08 L913.14,1243.00 L914.64,1242.91 L916.14,1242.82 L917.63,1242.72 L919.13,1242.62 L920.63,1242.51 L922.13,1242.39 L923.62,1242.27 L925.12,1242.14 L926.62,1242.01 L928.12,1241.86 L929.61,1241.72 L931.11,1241.56 L932.61,1241.39 L934.11,1241.22 L935.60,1241.04 L937.10,1240.85 L938.60,1240.65 L940.10,1240.44 L941.60,1240.23 L943.09,1240.00 L944.59,1239.77 L946.09,1239.52 L947.59,1239.26 L949.08,1239.00 L950.58,1238.72 L952.08,1238.43 L953.58,1238.14 L955.07,1237.83 L956.57,1237.51 L958.07,1237.17 L959.57,1236.83 L961.06,1236.48 L962.56,1236.11 L964.06,1235.73 L965.56,1235.34 L967.05,1234.93 L968.55,1234.51 L970.05,1234.08 L971.55,1233.64 L973.04,1233.18 L974.54,1232.71 L976.04,1232.23 L977.54,1231.73 L979.03,1231.22 L980.53,1230.69 L982.03,1230.15 L983.53,1229.59 L985.02,1229.02 L986.52,1228.43 L988.02,1227.83 L989.52,1227.22 L991.01,1226.58 L992.51,1225.94 L994.01,1225.27 L995.51,1224.59 L997.00,1223.89 L998.50,1223.18 L1000.00,1222.45 L1001.50,1221.71 L1003.00,1220.95 L1004.49,1220.17 L1005.99,1219.38 L1007.49,1218.57 L1008.99,1217.75 L1010.48,1216.91 L1011.98,1216.06 L1013.48,1215.19 L1014.98,1214.30 L1016.47,1213.41 L1017.97,1212.49 L1019.47,1211.57 L1020.97,1210.62 L1022.46,1209.67 L1023.96,1208.70 L1025.46,1207.71 L1026.96,1206.71 L1028.45,1205.70 L1029.95,1204.68 L1031.45,1203.64 L1032.95,1202.58 L1034.44,1201.51 L1035.94,1200.43 L1037.44,1199.34 L1038.94,1198.23 L1040.43,1197.11 L1041.93,1195.98 L1043.43,1194.84 L1044.93,1193.68 L1046.42,1192.51 L1047.92,1191.32 L1049.42,1190.13 L1050.92,1188.92 L1052.41,1187.70 L1053.91,1186.47 L1055.41,1185.22 L1056.91,1183.96 L1058.40,1182.70 L1059.90,1181.42 L1061.40,1180.13 L1062.90,1178.82 L1064.40,1177.51 L1065.89,1176.18 L1067.39,1174.85 L1068.89,1173.50 L1070.39,1172.14 L1071.88,1170.78 L1073.38,1169.40 L1074.88,1168.01 L1076.38,1166.61 L1077.87,1165.20 L1079.37,1163.78 L1080.87,1162.35 L1082.37,1160.90 L1083.86,1159.45 L1085.36,1157.99 L1086.86,1156.52 L1088.36,1155.04 L1089.85,1153.56 L1091.35,1152.06 L1092.85,1150.55 L1094.35,1149.03 L1095.84,1147.51 L1097.34,1145.97 L1098.84,1144.43 L1100.34,1142.88 L1101.83,1141.32 L1103.33,1139.75 L1104.83,1138.17 L1106.33,1136.59 L1107.82,1135.00 L1109.32,1133.40 L1110.82,1131.79 L1112.32,1130.17 L1113.81,1128.55 L1115.31,1126.91 L1116.81,1125.27 L1118.31,1123.63 L1119.80,1121.98 L1121.30,1120.31 L1122.80,1118.65 L1124.30,1116.97 L1125.80,1115.29 L1127.29,1113.61 L1128.79,1111.91 L1130.29,1110.21 L1131.79,1108.51 L1133.28,1106.80 L1134.78,1105.08 L1136.28,1103.36 L1137.78,1101.63 L1139.27,1099.89 L1140.77,1098.15 L1142.27,1096.41 L1143.77,1094.66 L1145.26,1092.90 L1146.76,1091.14 L1148.26,1089.38 L1149.76,1087.61 L1151.25,1085.83 L1152.75,1084.05 L1154.25,1082.27 L1155.75,1080.48 L1157.24,1078.69 L1158.74,1076.90 L1160.24,1075.10 L1161.74,1073.30 L1163.23,1071.49 L1164.73,1069.68 L1166.23,1067.87 L1167.73,1066.05 L1169.22,1064.23 L1170.72,1062.41 L1172.22,1060.59 L1173.72,1058.76 L1175.21,1056.93 L1176.71,1055.10 L1178.21,1053.26 L1179.71,1051.43 L1181.20,1049.59 L1182.70,1047.75 L1184.20,1045.90" pathLength="74" fill="none" stroke="#7548a8" stroke-width="2.15" stroke-dasharray="0.02 0.98" stroke-dashoffset="0.01" stroke-linecap="round"/>
<path d="M693.00,1342.17 L694.50,1340.99 L695.99,1339.82 L697.49,1338.66 L698.99,1337.51 L700.48,1336.37 L701.98,1335.23 L703.47,1334.11 L704.97,1333.00 L706.47,1331.89 L707.96,1330.80 L709.46,1329.71 L710.96,1328.63 L712.45,1327.56 L713.95,1326.50 L715.45,1325.45 L716.94,1324.41 L718.44,1323.38 L719.93,1322.36 L721.43,1321.34 L722.93,1320.34 L724.42,1319.34 L725.92,1318.36 L727.42,1317.38 L728.91,1316.41 L730.41,1315.45 L731.91,1314.50 L733.40,1313.55 L734.90,1312.62 L736.39,1311.69 L737.89,1310.78 L739.39,1309.87 L740.88,1308.97 L742.38,1308.08 L743.88,1307.19 L745.37,1306.32 L746.87,1305.46 L748.37,1304.60 L749.86,1303.75 L751.36,1302.91 L752.85,1302.08 L754.35,1301.26 L755.85,1300.44 L757.34,1299.63 L758.84,1298.84 L760.34,1298.05 L761.83,1297.27 L763.33,1296.49 L764.82,1295.73 L766.32,1294.97 L767.82,1294.22 L769.31,1293.48 L770.81,1292.75 L772.31,1292.02 L773.80,1291.31 L775.30,1290.60 L776.80,1289.90 L778.29,1289.21 L779.79,1288.52 L781.28,1287.85 L782.78,1287.18 L784.28,1286.52 L785.77,1285.86 L787.27,1285.22 L788.77,1284.58 L790.26,1283.95 L791.76,1283.33 L793.26,1282.72 L794.75,1282.11 L796.25,1281.51 L797.74,1280.92 L799.24,1280.34 L800.74,1279.76 L802.23,1279.19 L803.73,1278.63 L805.23,1278.08 L806.72,1277.53 L808.22,1276.99 L809.72,1276.46 L811.21,1275.94 L812.71,1275.42 L814.20,1274.91 L815.70,1274.41 L817.20,1273.91 L818.69,1273.43 L820.19,1272.95 L821.69,1272.47 L823.18,1272.01 L824.68,1271.55 L826.18,1271.10 L827.67,1270.65 L829.17,1270.22 L830.66,1269.79 L832.16,1269.36 L833.66,1268.95 L835.15,1268.54 L836.65,1268.13 L838.15,1267.73 L839.64,1267.34 L841.14,1266.96 L842.64,1266.58 L844.13,1266.21 L845.63,1265.84 L847.12,1265.48 L848.62,1265.12 L850.12,1264.77 L851.61,1264.43 L853.11,1264.09 L854.61,1263.75 L856.10,1263.42 L857.60,1263.10 L859.10,1262.77 L860.59,1262.46 L862.09,1262.15 L863.58,1261.84 L865.08,1261.54 L866.58,1261.24 L868.07,1260.94 L869.57,1260.65 L871.07,1260.36 L872.56,1260.08 L874.06,1259.79 L875.56,1259.52 L877.05,1259.24 L878.55,1258.97 L880.04,1258.70 L881.54,1258.44 L883.04,1258.17 L884.53,1257.91 L886.03,1257.65 L887.53,1257.40 L889.02,1257.14 L890.52,1256.89 L892.01,1256.64 L893.51,1256.39 L895.01,1256.15 L896.50,1255.90 L898.00,1255.66 L899.50,1255.41 L900.99,1255.17 L902.49,1254.93 L903.99,1254.69 L905.48,1254.46 L906.98,1254.22 L908.47,1253.98 L909.97,1253.74 L911.47,1253.51 L912.96,1253.27 L914.46,1253.03 L915.96,1252.80 L917.45,1252.56 L918.95,1252.32 L920.45,1252.09 L921.94,1251.85 L923.44,1251.61 L924.93,1251.37 L926.43,1251.13 L927.93,1250.89 L929.42,1250.65 L930.92,1250.40 L932.42,1250.16 L933.91,1249.91 L935.41,1249.66 L936.91,1249.41 L938.40,1249.16 L939.90,1248.90 L941.39,1248.65 L942.89,1248.39 L944.39,1248.12 L945.88,1247.86 L947.38,1247.59 L948.88,1247.32 L950.37,1247.05 L951.87,1246.78 L953.37,1246.50 L954.86,1246.21 L956.36,1245.93 L957.85,1245.64 L959.35,1245.35 L960.85,1245.05 L962.34,1244.75 L963.84,1244.44 L965.34,1244.13 L966.83,1243.82 L968.33,1243.50 L969.83,1243.18 L971.32,1242.85 L972.82,1242.52 L974.31,1242.19 L975.81,1241.84 L977.31,1241.50 L978.80,1241.14 L980.30,1240.79 L981.80,1240.42 L983.29,1240.05 L984.79,1239.68 L986.29,1239.30 L987.78,1238.92 L989.28,1238.53 L990.77,1238.13 L992.27,1237.73 L993.77,1237.33 L995.26,1236.93 L996.76,1236.51 L998.26,1236.10 L999.75,1235.68 L1001.25,1235.26 L1002.74,1234.84 L1004.24,1234.41 L1005.74,1233.98 L1007.23,1233.55 L1008.73,1233.11 L1010.23,1232.67 L1011.72,1232.23 L1013.22,1231.79 L1014.72,1231.35 L1016.21,1230.90 L1017.71,1230.45 L1019.20,1230.01 L1020.70,1229.56 L1022.20,1229.11 L1023.69,1228.66 L1025.19,1228.21 L1026.69,1227.76 L1028.18,1227.30 L1029.68,1226.85 L1031.18,1226.40 L1032.67,1225.95 L1034.17,1225.50 L1035.66,1225.05 L1037.16,1224.60 L1038.66,1224.16 L1040.15,1223.71 L1041.65,1223.27 L1043.15,1222.82 L1044.64,1222.38 L1046.14,1221.94 L1047.64,1221.51 L1049.13,1221.07 L1050.63,1220.64 L1052.12,1220.21 L1053.62,1219.79 L1055.12,1219.36 L1056.61,1218.95 L1058.11,1218.53 L1059.61,1218.12 L1061.10,1217.71 L1062.60,1217.30 L1064.10,1216.90 L1065.59,1216.51 L1067.09,1216.12 L1068.58,1215.73 L1070.08,1215.35 L1071.58,1214.97 L1073.07,1214.60 L1074.57,1214.23 L1076.07,1213.87 L1077.56,1213.52 L1079.06,1213.17 L1080.56,1212.83 L1082.05,1212.49 L1083.55,1212.16 L1085.04,1211.84 L1086.54,1211.53 L1088.04,1211.22 L1089.53,1210.92 L1091.03,1210.62 L1092.53,1210.34 L1094.02,1210.06 L1095.52,1209.79 L1097.02,1209.53 L1098.51,1209.27 L1100.01,1209.03 L1101.50,1208.79 L1103.00,1208.56 L1104.50,1208.34 L1105.99,1208.13 L1107.49,1207.93 L1108.99,1207.74 L1110.48,1207.56 L1111.98,1207.39 L1113.48,1207.23 L1114.97,1207.08 L1116.47,1206.93 L1117.96,1206.80 L1119.46,1206.67 L1120.96,1206.55 L1122.45,1206.44 L1123.95,1206.33 L1125.45,1206.23 L1126.94,1206.15 L1128.44,1206.06 L1129.93,1205.99 L1131.43,1205.92 L1132.93,1205.85 L1134.42,1205.80 L1135.92,1205.75 L1137.42,1205.70 L1138.91,1205.66 L1140.41,1205.62 L1141.91,1205.59 L1143.40,1205.57 L1144.90,1205.55 L1146.39,1205.53 L1147.89,1205.52 L1149.39,1205.51 L1150.88,1205.51 L1152.38,1205.51 L1153.88,1205.51 L1155.37,1205.51 L1156.87,1205.52 L1158.37,1205.53 L1159.86,1205.54 L1161.36,1205.56 L1162.85,1205.58 L1164.35,1205.59 L1165.85,1205.61 L1167.34,1205.63 L1168.84,1205.66 L1170.34,1205.68 L1171.83,1205.70 L1173.33,1205.73 L1174.83,1205.75 L1176.32,1205.78 L1177.82,1205.80 L1179.31,1205.82 L1180.81,1205.85 L1182.31,1205.87 L1183.80,1205.89 L1185.30,1205.91" pathLength="67" fill="none" stroke="#7548a8" stroke-width="2.15" stroke-dasharray="0.02 0.98" stroke-dashoffset="0.01" stroke-linecap="round"/>
</g>
<line x1="692.80" y1="1367.20" x2="692.80" y2="1380.30" stroke="#3650a9" stroke-width="1.4"/>
<line x1="715.00" y1="1367.20" x2="715.00" y2="1380.30" stroke="#3650a9" stroke-width="1.4"/>
<line x1="722.70" y1="1367.20" x2="722.70" y2="1380.30" stroke="#3650a9" stroke-width="1.4"/>
<rect x="730.50" y="1367.20" width="2.50" height="13.10" fill="#3650a9"/>
<line x1="741.80" y1="1367.20" x2="741.80" y2="1380.30" stroke="#3650a9" stroke-width="1.4"/>
<rect x="745.60" y="1367.20" width="3.60" height="13.10" fill="#3650a9"/>
<line x1="755.10" y1="1367.20" x2="755.10" y2="1380.30" stroke="#3650a9" stroke-width="1.4"/>
<rect x="756.60" y="1367.20" width="3.00" height="13.10" fill="#3650a9"/>
<rect x="760.20" y="1367.20" width="340.10" height="13.10" fill="#3650a9"/>
<rect x="1103.30" y="1367.20" width="3.50" height="13.10" fill="#3650a9"/>
<line x1="1108.30" y1="1367.20" x2="1108.30" y2="1380.30" stroke="#3650a9" stroke-width="1.4"/>
<line x1="1110.70" y1="1367.20" x2="1110.70" y2="1380.30" stroke="#3650a9" stroke-width="1.4"/>
<line x1="1122.00" y1="1367.20" x2="1122.00" y2="1380.30" stroke="#3650a9" stroke-width="1.4"/>
<line x1="1187.30" y1="1367.20" x2="1187.30" y2="1380.30" stroke="#3650a9" stroke-width="1.4"/>
<line x1="770.80" y1="1367.20" x2="770.80" y2="1380.30" stroke="#9aa6d8" stroke-width="0.8"/>
<line x1="787.50" y1="1367.20" x2="787.50" y2="1380.30" stroke="#9aa6d8" stroke-width="0.8"/>
<line x1="1080.00" y1="1367.20" x2="1080.00" y2="1380.30" stroke="#9aa6d8" stroke-width="0.8"/>
<line x1="1087.70" y1="1367.20" x2="1087.70" y2="1380.30" stroke="#9aa6d8" stroke-width="0.8"/>
<line x1="1092.70" y1="1367.20" x2="1092.70" y2="1380.30" stroke="#9aa6d8" stroke-width="0.8"/>
</svg>
</body></html>
